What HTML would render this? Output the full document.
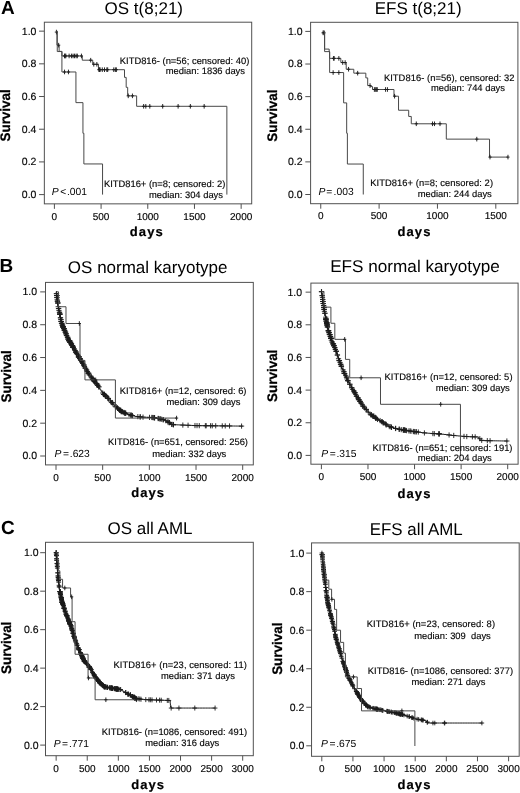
<!DOCTYPE html>
<html><head><meta charset="utf-8"><title>Figure</title>
<style>
html,body{margin:0;padding:0;background:#fff}
svg{display:block}
text{font-family:"Liberation Sans",Arial,Helvetica,sans-serif;fill:#000;text-rendering:geometricPrecision}
.tk{font-size:10.5px;stroke:#111;stroke-width:.15px}
.tx{font-size:10px}
.an{font-size:9.4px;stroke:#111;stroke-width:.15px}
.ti{font-size:17px}
.ax{font-size:13px;font-weight:bold;stroke:#000;stroke-width:.2px}
.dy{letter-spacing:1.1px}
.sv{font-size:13.8px;font-weight:bold;stroke:#000;stroke-width:.25px}
.pl{font-size:19px;font-weight:bold}
.pv{font-size:10.3px}
</style></head><body>
<svg width="520" height="793" viewBox="0 0 520 793">
<rect width="520" height="793" fill="#fff"/>
<rect x="44.35" y="22.2" width="207.35" height="181.65" fill="none" stroke="#505050" stroke-width="1"/>
<text class="tk" text-anchor="end" x="36.45" y="198.05">0.0</text>
<text class="tk" text-anchor="end" x="36.45" y="165.36">0.2</text>
<text class="tk" text-anchor="end" x="36.45" y="132.67">0.4</text>
<text class="tk" text-anchor="end" x="36.45" y="99.98">0.6</text>
<text class="tk" text-anchor="end" x="36.45" y="67.29">0.8</text>
<text class="tk" text-anchor="end" x="36.45" y="34.6">1.0</text>
<text class="tk tx" text-anchor="middle" x="54.4" y="220">0</text>
<text class="tk tx" text-anchor="middle" x="101.09" y="220">500</text>
<text class="tk tx" text-anchor="middle" x="147.78" y="220">1000</text>
<text class="tk tx" text-anchor="middle" x="194.46" y="220">1500</text>
<text class="tk tx" text-anchor="middle" x="241.15" y="220">2000</text>
<path d="M39.05 194.6H44.35M39.05 161.91H44.35M39.05 129.22H44.35M39.05 96.53H44.35M39.05 63.84H44.35M39.05 31.15H44.35M54.4 203.85V208.85M101.09 203.85V208.85M147.78 203.85V208.85M194.46 203.85V208.85M241.15 203.85V208.85" fill="none" stroke="#505050" stroke-width="1"/>
<path d="M56.41 32.08 H56.97 V45.16 H59.12 V51.37 H61.92 V55.95 H82.28 V60.2 H92.74 V64.29 H98.44 V69.69 H124.5 V77.37 H126.18 V87.34 H127.68 V95.85 H136.64 V106.31 H226.87 H226.87 V194.6" fill="none" stroke="#484848" stroke-width="1.0" stroke-linejoin="miter"/>
<path d="M56.41 29.78V34.38M54.81 32.08H58.01M58.65 42.86V47.46M57.05 45.16H60.25M64.54 53.65V58.25M62.94 55.95H66.14M65.1 53.65V58.25M63.5 55.95H66.7M65.84 53.65V58.25M64.24 55.95H67.44M69.11 53.65V58.25M67.51 55.95H70.71M71.45 53.65V58.25M69.85 55.95H73.05M73.04 53.65V58.25M71.44 55.95H74.64M74.53 53.65V58.25M72.93 55.95H76.13M76.12 53.65V58.25M74.52 55.95H77.72M77.33 53.65V58.25M75.73 55.95H78.93M81.44 53.65V58.25M79.84 55.95H83.04M90.69 57.9V62.5M89.09 60.2H92.29M93.77 61.99V66.59M92.17 64.29H95.37M96.85 61.99V66.59M95.25 64.29H98.45M98.91 67.39V71.99M97.31 69.69H100.51M99.47 67.39V71.99M97.87 69.69H101.07M100.12 67.39V71.99M98.52 69.69H101.72M102.27 67.39V71.99M100.67 69.69H103.87M104.51 67.39V71.99M102.91 69.69H106.11M106.85 67.39V71.99M105.25 69.69H108.45M107.69 67.39V71.99M106.09 69.69H109.29M113.76 67.39V71.99M112.16 69.69H115.36M115.35 67.39V71.99M113.75 69.69H116.95M116.37 67.39V71.99M114.77 69.69H117.97M128.24 93.55V98.15M126.64 95.85H129.84M132.44 93.55V98.15M130.84 95.85H134.04M143.65 104.01V108.61M142.05 106.31H145.25M145.8 104.01V108.61M144.2 106.31H147.4M149.81 104.01V108.61M148.21 106.31H151.41M162.7 104.01V108.61M161.1 106.31H164.3M178.11 104.01V108.61M176.51 106.31H179.71M190.35 104.01V108.61M188.75 106.31H191.95M204.17 104.01V108.61M202.57 106.31H205.77" fill="none" stroke="#1c1c1c" stroke-width="0.95"/>
<path d="M56.41 31.1 H57.25 V51.54 H61.92 V71.97 H75.93 V102.63 H82.94 V133.29 H83.87 V163.94 H102.55 H102.55 V194.6" fill="none" stroke="#484848" stroke-width="1.0" stroke-linejoin="miter"/>
<path d="M64.54 69.67V74.27M62.94 71.97H66.14M68.46 69.67V74.27M66.86 71.97H70.06" fill="none" stroke="#1c1c1c" stroke-width="0.95"/>
<rect x="310.6" y="22.3" width="207.3" height="181.4" fill="none" stroke="#505050" stroke-width="1"/>
<text class="tk" text-anchor="end" x="302.5" y="197.95">0.0</text>
<text class="tk" text-anchor="end" x="302.5" y="165.33">0.2</text>
<text class="tk" text-anchor="end" x="302.5" y="132.71">0.4</text>
<text class="tk" text-anchor="end" x="302.5" y="100.09">0.6</text>
<text class="tk" text-anchor="end" x="302.5" y="67.47">0.8</text>
<text class="tk" text-anchor="end" x="302.5" y="34.85">1.0</text>
<text class="tk tx" text-anchor="middle" x="320.75" y="219">0</text>
<text class="tk tx" text-anchor="middle" x="379.1" y="219">500</text>
<text class="tk tx" text-anchor="middle" x="437.45" y="219">1000</text>
<text class="tk tx" text-anchor="middle" x="495.8" y="219">1500</text>
<path d="M305.3 194.5H310.6M305.3 161.88H310.6M305.3 129.26H310.6M305.3 96.64H310.6M305.3 64.02H310.6M305.3 31.4H310.6M320.75 203.7V208.7M379.1 203.7V208.7M437.45 203.7V208.7M495.8 203.7V208.7" fill="none" stroke="#505050" stroke-width="1"/>
<path d="M323.09 32.83 H324.6 V49.08 H329.16 V51.94 H329.63 V58.37 H340.84 V62.55 H346.21 V69.25 H353.8 V73.17 H365.83 V77.9 H367.7 V85.58 H370.62 V86.56 H372.49 V89.5 H393.98 V96.19 H398.54 V110.24 H408.7 V116.44 H411.27 V123.79 H446.31 V139.14 H489.53 V157.1 H507.98" fill="none" stroke="#484848" stroke-width="1.0" stroke-linejoin="miter"/>
<path d="M323.09 30.53V35.13M321.49 32.83H324.69M324.02 30.53V35.13M322.42 32.83H325.62M333.48 56.07V60.67M331.88 58.37H335.08M334.18 56.07V60.67M332.58 58.37H335.78M338.85 56.07V60.67M337.25 58.37H340.45M342.71 60.25V64.85M341.11 62.55H344.31M345.16 60.25V64.85M343.56 62.55H346.76M348.55 66.95V71.55M346.95 69.25H350.15M357.66 70.87V75.47M356.06 73.17H359.26M370.04 83.28V87.88M368.44 85.58H371.64M374.36 87.2V91.8M372.76 89.5H375.96M375.3 87.2V91.8M373.7 89.5H376.9M376.35 87.2V91.8M374.75 89.5H377.95M377.28 87.2V91.8M375.68 89.5H378.88M385.57 87.2V91.8M383.97 89.5H387.17M387.44 87.2V91.8M385.84 89.5H389.04M394.57 93.89V98.49M392.97 96.19H396.17M416.29 121.49V126.09M414.69 123.79H417.89M432.53 121.49V126.09M430.93 123.79H434.13M434.51 121.49V126.09M432.91 123.79H436.11M440 121.49V126.09M438.4 123.79H441.6M476.79 136.84V141.44M475.19 139.14H478.39M489.99 154.8V159.4M488.39 157.1H491.59M507.98 154.8V159.4M506.38 157.1H509.58" fill="none" stroke="#1c1c1c" stroke-width="0.95"/>
<path d="M323.09 31.2 H324.6 V51.61 H329.63 V72.55 H343.64 V102.89 H346.68 V133.26 H347.38 V164.04 H363.27 H363.27 V194.5" fill="none" stroke="#484848" stroke-width="1.0" stroke-linejoin="miter"/>
<path d="M333.13 70.25V74.85M331.53 72.55H334.73M338.85 70.25V74.85M337.25 72.55H340.45" fill="none" stroke="#1c1c1c" stroke-width="0.95"/>
<rect x="45.5" y="282.4" width="207.8" height="182.5" fill="none" stroke="#505050" stroke-width="1"/>
<text class="tk" text-anchor="end" x="37" y="459.45">0.0</text>
<text class="tk" text-anchor="end" x="37" y="426.63">0.2</text>
<text class="tk" text-anchor="end" x="37" y="393.81">0.4</text>
<text class="tk" text-anchor="end" x="37" y="360.99">0.6</text>
<text class="tk" text-anchor="end" x="37" y="328.17">0.8</text>
<text class="tk" text-anchor="end" x="37" y="295.35">1.0</text>
<text class="tk tx" text-anchor="middle" x="56" y="480.8">0</text>
<text class="tk tx" text-anchor="middle" x="102.67" y="480.8">500</text>
<text class="tk tx" text-anchor="middle" x="149.35" y="480.8">1000</text>
<text class="tk tx" text-anchor="middle" x="196.03" y="480.8">1500</text>
<text class="tk tx" text-anchor="middle" x="242.7" y="480.8">2000</text>
<path d="M40.2 456H45.5M40.2 423.18H45.5M40.2 390.36H45.5M40.2 357.54H45.5M40.2 324.72H45.5M40.2 291.9H45.5M56 464.9V469.9M102.67 464.9V469.9M149.35 464.9V469.9M196.03 464.9V469.9M242.7 464.9V469.9" fill="none" stroke="#505050" stroke-width="1"/>
<path d="M56 291.8 H56.27 V293.67 H56.54 V295.53 H56.81 V297.4 H57.08 V299.26 H57.35 V301.13 H57.62 V302.99 H57.89 V304.86 H58.16 V306.72 H58.43 V308.59 H58.78 V310.44 H59.17 V312.28 H59.56 V314.13 H59.94 V315.97 H60.33 V317.82 H60.72 V319.66 H61.11 V321.51 H61.5 V323.35 H62.05 V325.14 H62.77 V326.88 H63.5 V328.62 H64.23 V330.36 H64.96 V332.1 H65.69 V333.84 H66.41 V335.57 H67.14 V337.31 H67.87 V339.05 H68.8 V340.69 H69.76 V342.31 H70.72 V343.93 H71.67 V345.56 H72.63 V347.18 H73.59 V348.8 H74.54 V350.43 H75.5 V352.05 H76.46 V353.68 H77.42 V355.3 H78.37 V356.92 H79.33 V358.55 H80.28 V360.18 H81.23 V361.8 H82.18 V363.43 H83.13 V365.06 H84.09 V366.68 H85.04 V368.31 H85.99 V369.93 H86.94 V371.56 H87.89 V373.19 H88.91 V374.77 H90.05 V376.27 H91.19 V377.77 H92.33 V379.27 H93.47 V380.78 H94.61 V382.28 H95.75 V383.78 H96.88 V385.29 H97.97 V386.83 H99.05 V388.37 H100.14 V389.91 H101.23 V391.45 H102.31 V392.99 H103.49 V394.45 H104.83 V395.78 H106.16 V397.11 H107.5 V398.44 H108.83 V399.77 H110.11 V401.15 H111.37 V402.56 H112.63 V403.96 H113.88 V405.37 H115.14 V406.77 H116.56 V408.01 H118.02 V409.2 H119.48 V410.39 H120.94 V411.57 H122.55 V412.51 H124.31 V413.2 H126.06 V413.89 H127.81 V414.58 H129.63 V415.07 H131.46 V415.55 H133.28 V416.03 H135.13 V416.39 H136.99 V416.63 H138.86 V416.88 H140.73 V417.1 H142.62 V417.17 H144.5 V417.25 H146.38 V417.32 H148.27 V417.4 H150.15 V417.47 H152.03 V417.54 H153.9 V417.78 H155.75 V418.15 H157.6 V418.51 H159.44 V418.88 H161.29 V419.24 H163.11 V419.7 H164.73 V420.65 H166.36 V421.6 H167.99 V422.56 H169.62 V423.49 H171.26 V424.43 H173.09 V424.7 H174.97 V424.78 H176.85 V424.85 H178.74 V424.93 H180.62 V425.01 H182.5 V425.09 H184.39 V425.17 H186.27 V425.25 H188.15 V425.32 H190.03 V425.4 H191.92 V425.48 H193.8 V425.56 H195.68 V425.63 H197.57 V425.65 H199.45 V425.67 H201.34 V425.69 H203.22 V425.7 H205.11 V425.72 H206.99 V425.74 H208.88 V425.76 H210.76 V425.78 H212.65 V425.8 H214.53 V425.82 H216.42 V425.84 H218.3 V425.86 H220.18 V425.88 H222.07 V425.9 H223.95 V425.92 H225.84 V425.94 H227.72 V425.96 H229.61 V425.98 H231.49 V426 H233.38 V426.02 H235.26 V426.04 H237.15 V426.06 H239.03 V426.08 H240.92 V426.1 H242.8 V426.12" fill="none" stroke="#1c1c1c" stroke-width="1.0" stroke-linejoin="miter"/>
<path d="M182.84 422.49V427.69M180.24 425.09H185.44M188.07 422.65V427.85M185.47 425.25H190.67M194.98 422.96V428.16M192.38 425.56H197.58M197.03 423.03V428.23M194.43 425.63H199.63M199.28 423.05V428.25M196.68 425.65H201.88M205.35 423.12V428.32M202.75 425.72H207.95M206.19 423.12V428.32M203.59 425.72H208.79M210.58 423.16V428.36M207.98 425.76H213.18M212.26 423.18V428.38M209.66 425.78H214.86M215.71 423.22V428.42M213.11 425.82H218.31M222.25 423.3V428.5M219.65 425.9H224.85M225.24 423.32V428.52M222.64 425.92H227.84M229.54 423.36V428.56M226.94 425.96H232.14M241.59 423.5V428.7M238.99 426.1H244.19M59.93 311.53V316.73M57.33 314.13H62.53M57.83 300.39V305.59M55.23 302.99H60.43M63.9 326.02V331.22M61.3 328.62H66.5M56.88 294.8V300M54.28 297.4H59.48M62.51 322.54V327.74M59.91 325.14H65.11M60.44 315.22V320.42M57.84 317.82H63.04M56.7 292.93V298.13M54.1 295.53H59.3M62.16 322.54V327.74M59.56 325.14H64.76M56.46 291.07V296.27M53.86 293.67H59.06M61.27 318.91V324.11M58.67 321.51H63.87M56.85 294.8V300M54.25 297.4H59.45M57.1 296.66V301.86M54.5 299.26H59.7M61.15 318.91V324.11M58.55 321.51H63.75M66.04 331.24V336.44M63.44 333.84H68.64M57.5 298.53V303.73M54.9 301.13H60.1M58.71 305.99V311.19M56.11 308.59H61.31M63.62 326.02V331.22M61.02 328.62H66.22M67.51 334.71V339.91M64.91 337.31H70.11M63.01 324.28V329.48M60.41 326.88H65.61M60.82 317.06V322.26M58.22 319.66H63.42M67.85 334.71V339.91M65.25 337.31H70.45M56.57 292.93V298.13M53.97 295.53H59.17M66.42 332.97V338.17M63.82 335.57H69.02M59.52 309.68V314.88M56.92 312.28H62.12M57.75 300.39V305.59M55.15 302.99H60.35M57.43 298.53V303.73M54.83 301.13H60.03M59.75 311.53V316.73M57.15 314.13H62.35M65.91 331.24V336.44M63.31 333.84H68.51M58.19 304.12V309.32M55.59 306.72H60.79M63.06 324.28V329.48M60.46 326.88H65.66M63.76 326.02V331.22M61.16 328.62H66.36M60.52 315.22V320.42M57.92 317.82H63.12M62.65 322.54V327.74M60.05 325.14H65.25M56.76 292.93V298.13M54.16 295.53H59.36M56.72 292.93V298.13M54.12 295.53H59.32M58.5 305.99V311.19M55.9 308.59H61.1M64.26 327.76V332.96M61.66 330.36H66.86M61.19 318.91V324.11M58.59 321.51H63.79M59.81 311.53V316.73M57.21 314.13H62.41M63.11 324.28V329.48M60.51 326.88H65.71M61.5 320.75V325.95M58.9 323.35H64.1M59.64 311.53V316.73M57.04 314.13H62.24M65.65 329.5V334.7M63.05 332.1H68.25M64.49 327.76V332.96M61.89 330.36H67.09M58.96 307.84V313.04M56.36 310.44H61.56M62.97 324.28V329.48M60.37 326.88H65.57M62.38 322.54V327.74M59.78 325.14H64.98M66.63 332.97V338.17M64.03 335.57H69.23M64.86 327.76V332.96M62.26 330.36H67.46M59.5 309.68V314.88M56.9 312.28H62.1M67.9 336.45V341.65M65.3 339.05H70.5M57.43 298.53V303.73M54.83 301.13H60.03M61.08 317.06V322.26M58.48 319.66H63.68M65.19 329.5V334.7M62.59 332.1H67.79M57.85 300.39V305.59M55.25 302.99H60.45M61.94 320.75V325.95M59.34 323.35H64.54M56.48 291.07V296.27M53.88 293.67H59.08M64.11 326.02V331.22M61.51 328.62H66.71M65.28 329.5V334.7M62.68 332.1H67.88M62.96 324.28V329.48M60.36 326.88H65.56M66.63 332.97V338.17M64.03 335.57H69.23M59.81 311.53V316.73M57.21 314.13H62.41M64.44 327.76V332.96M61.84 330.36H67.04M63.22 324.28V329.48M60.62 326.88H65.82M63.04 324.28V329.48M60.44 326.88H65.64M61.54 320.75V325.95M58.94 323.35H64.14M66.2 331.24V336.44M63.6 333.84H68.8M67.47 334.71V339.91M64.87 337.31H70.07M61.76 320.75V325.95M59.16 323.35H64.36M64.06 326.02V331.22M61.46 328.62H66.66M69.96 339.71V344.91M67.36 342.31H72.56M89.11 372.17V377.37M86.51 374.77H91.71M87.48 368.96V374.16M84.88 371.56H90.08M97.82 382.69V387.89M95.22 385.29H100.42M92.71 376.67V381.87M90.11 379.27H95.31M76.65 351.08V356.28M74.05 353.68H79.25M79.67 355.95V361.15M77.07 358.55H82.27M88.13 370.59V375.79M85.53 373.19H90.73M68.82 338.09V343.29M66.22 340.69H71.42M81.94 359.2V364.4M79.34 361.8H84.54M73.16 344.58V349.78M70.56 347.18H75.76M71.64 341.33V346.53M69.04 343.93H74.24M69.9 339.71V344.91M67.3 342.31H72.5M91.1 373.67V378.87M88.5 376.27H93.7M72.01 342.96V348.16M69.41 345.56H74.61M75.54 349.45V354.65M72.94 352.05H78.14M79.83 355.95V361.15M77.23 358.55H82.43M94.19 378.18V383.38M91.59 380.78H96.79M70.55 339.71V344.91M67.95 342.31H73.15M81.57 359.2V364.4M78.97 361.8H84.17M84.56 364.08V369.28M81.96 366.68H87.16M94.54 378.18V383.38M91.94 380.78H97.14M92.63 376.67V381.87M90.03 379.27H95.23M93.96 378.18V383.38M91.36 380.78H96.56M76.46 351.08V356.28M73.86 353.68H79.06M80.55 357.58V362.78M77.95 360.18H83.15M78.86 354.32V359.52M76.26 356.92H81.46M94.57 378.18V383.38M91.97 380.78H97.17M96.77 381.18V386.38M94.17 383.78H99.37M72.65 344.58V349.78M70.05 347.18H75.25M73.41 344.58V349.78M70.81 347.18H76.01M75.07 347.83V353.03M72.47 350.43H77.67M75.12 347.83V353.03M72.52 350.43H77.72M82.64 360.83V366.03M80.04 363.43H85.24M85.75 365.71V370.91M83.15 368.31H88.35M75.99 349.45V354.65M73.39 352.05H78.59M68.26 336.45V341.65M65.66 339.05H70.86M80.66 357.58V362.78M78.06 360.18H83.26M79.18 354.32V359.52M76.58 356.92H81.78M85.07 365.71V370.91M82.47 368.31H87.67M96.63 381.18V386.38M94.03 383.78H99.23M88.78 370.59V375.79M86.18 373.19H91.38M83.55 362.46V367.66M80.95 365.06H86.15M86.6 367.33V372.53M84 369.93H89.2M88.35 370.59V375.79M85.75 373.19H90.95M69.76 338.09V343.29M67.16 340.69H72.36M95.03 379.68V384.88M92.43 382.28H97.63M91.45 375.17V380.37M88.85 377.77H94.05M94.28 378.18V383.38M91.68 380.78H96.88M91.99 375.17V380.37M89.39 377.77H94.59M79.87 355.95V361.15M77.27 358.55H82.47M80.07 355.95V361.15M77.47 358.55H82.67M71.24 341.33V346.53M68.64 343.93H73.84M87.1 368.96V374.16M84.5 371.56H89.7M70 339.71V344.91M67.4 342.31H72.6M70.15 339.71V344.91M67.55 342.31H72.75M74.38 346.2V351.4M71.78 348.8H76.98M72.99 344.58V349.78M70.39 347.18H75.59M78.31 352.7V357.9M75.71 355.3H80.91M69.71 338.09V343.29M67.11 340.69H72.31M68.15 336.45V341.65M65.55 339.05H70.75M72.66 344.58V349.78M70.06 347.18H75.26M71.17 341.33V346.53M68.57 343.93H73.77M79.01 354.32V359.52M76.41 356.92H81.61M68.9 338.09V343.29M66.3 340.69H71.5M94.27 378.18V383.38M91.67 380.78H96.87M86.5 367.33V372.53M83.9 369.93H89.1M72.58 342.96V348.16M69.98 345.56H75.18M75.68 349.45V354.65M73.08 352.05H78.28M78.52 354.32V359.52M75.92 356.92H81.12M79.03 354.32V359.52M76.43 356.92H81.63M71.81 342.96V348.16M69.21 345.56H74.41M93.52 378.18V383.38M90.92 380.78H96.12M97.82 382.69V387.89M95.22 385.29H100.42M82.07 359.2V364.4M79.47 361.8H84.67M82.6 360.83V366.03M80 363.43H85.2M70.71 339.71V344.91M68.11 342.31H73.31M71.2 341.33V346.53M68.6 343.93H73.8M78.38 354.32V359.52M75.78 356.92H80.98M76.06 349.45V354.65M73.46 352.05H78.66M92.91 376.67V381.87M90.31 379.27H95.51M72.97 344.58V349.78M70.37 347.18H75.57M68.83 338.09V343.29M66.23 340.69H71.43M96.57 381.18V386.38M93.97 383.78H99.17M83.93 362.46V367.66M81.33 365.06H86.53M72.52 342.96V348.16M69.92 345.56H75.12M84.38 364.08V369.28M81.78 366.68H86.98M68.95 338.09V343.29M66.35 340.69H71.55M83.93 362.46V367.66M81.33 365.06H86.53M97.39 382.69V387.89M94.79 385.29H99.99M122.22 408.97V414.17M119.62 411.57H124.82M117.54 405.41V410.61M114.94 408.01H120.14M105.35 393.18V398.38M102.75 395.78H107.95M108.3 395.84V401.04M105.7 398.44H110.9M102.71 390.39V395.59M100.11 392.99H105.31M119.66 407.79V412.99M117.06 410.39H122.26M112.95 401.36V406.56M110.35 403.96H115.55M119.86 407.79V412.99M117.26 410.39H122.46M107.27 394.51V399.71M104.67 397.11H109.87M104.28 391.85V397.05M101.68 394.45H106.88M120.77 407.79V412.99M118.17 410.39H123.37M125.63 410.6V415.8M123.03 413.2H128.23M121.92 408.97V414.17M119.32 411.57H124.52M120.62 407.79V412.99M118.02 410.39H123.22M120.96 408.97V414.17M118.36 411.57H123.56M118.76 406.6V411.8M116.16 409.2H121.36M104.38 391.85V397.05M101.78 394.45H106.98M112.53 399.96V405.16M109.93 402.56H115.13M107.99 395.84V401.04M105.39 398.44H110.59M98.84 384.23V389.43M96.24 386.83H101.44M98.81 384.23V389.43M96.21 386.83H101.41M105.86 393.18V398.38M103.26 395.78H108.46M105.29 393.18V398.38M102.69 395.78H107.89M117.43 405.41V410.61M114.83 408.01H120.03M124.83 410.6V415.8M122.23 413.2H127.43M110.56 398.55V403.75M107.96 401.15H113.16M124.29 409.91V415.11M121.69 412.51H126.89M125.71 410.6V415.8M123.11 413.2H128.31M124.79 410.6V415.8M122.19 413.2H127.39M108.25 395.84V401.04M105.65 398.44H110.85M104.21 391.85V397.05M101.61 394.45H106.81M104.39 391.85V397.05M101.79 394.45H106.99M103.54 391.85V397.05M100.94 394.45H106.14M103.76 391.85V397.05M101.16 394.45H106.36M115.52 404.17V409.37M112.92 406.77H118.12M123.26 409.91V415.11M120.66 412.51H125.86M121.58 408.97V414.17M118.98 411.57H124.18M111.46 399.96V405.16M108.86 402.56H114.06M116.33 404.17V409.37M113.73 406.77H118.93M120.44 407.79V412.99M117.84 410.39H123.04M129.06 411.98V417.18M126.46 414.58H131.66M149.5 414.8V420M146.9 417.4H152.1M158.34 415.91V421.11M155.74 418.51H160.94M153.82 414.94V420.14M151.22 417.54H156.42M152.67 414.94V420.14M150.07 417.54H155.27M143.02 414.57V419.77M140.42 417.17H145.62M132.39 412.95V418.15M129.79 415.55H134.99M154.06 415.18V420.38M151.46 417.78H156.66M137.85 414.03V419.23M135.25 416.63H140.45M154.47 415.18V420.38M151.87 417.78H157.07M160.54 416.28V421.48M157.94 418.88H163.14M140.1 414.28V419.48M137.5 416.88H142.7M140.3 414.28V419.48M137.7 416.88H142.9M159.65 416.28V421.48M157.05 418.88H162.25M151.77 414.87V420.07M149.17 417.47H154.37M132.08 412.95V418.15M129.48 415.55H134.68M130.56 412.47V417.67M127.96 415.07H133.16M131.41 412.47V417.67M128.81 415.07H134.01M158.17 415.91V421.11M155.57 418.51H160.77M154.67 415.18V420.38M152.07 417.78H157.27M163.32 417.1V422.3M160.72 419.7H165.92M171.58 421.83V427.03M168.98 424.43H174.18M173.44 422.1V427.3M170.84 424.7H176.04M169.52 419.96V425.16M166.92 422.56H172.12M165.8 418.05V423.25M163.2 420.65H168.4M168.2 419.96V425.16M165.6 422.56H170.8M163.13 417.1V422.3M160.53 419.7H165.73M161.71 416.64V421.84M159.11 419.24H164.31M173.33 422.1V427.3M170.73 424.7H175.93M169.43 419.96V425.16M166.83 422.56H172.03M167.94 419V424.2M165.34 421.6H170.54M172.88 421.83V427.03M170.28 424.43H175.48" fill="none" stroke="#1c1c1c" stroke-width="0.9"/>
<path d="M56 291.8 H58.52 V306.74 H65.99 V323.49 H80 V360.44 H84.95 V379.89 H115.4 V418.07 H176.58" fill="none" stroke="#484848" stroke-width="1.0" stroke-linejoin="miter"/>
<path d="M79.35 321.19V325.79M77.75 323.49H80.95M95.7 377.59V382.19M94.1 379.89H97.3M176.58 415.77V420.37M174.98 418.07H178.18" fill="none" stroke="#1c1c1c" stroke-width="0.95"/>
<rect x="310.9" y="283.1" width="207.2" height="181.1" fill="none" stroke="#505050" stroke-width="1"/>
<text class="tk" text-anchor="end" x="302" y="458.85">0.0</text>
<text class="tk" text-anchor="end" x="302" y="426.2">0.2</text>
<text class="tk" text-anchor="end" x="302" y="393.55">0.4</text>
<text class="tk" text-anchor="end" x="302" y="360.9">0.6</text>
<text class="tk" text-anchor="end" x="302" y="328.25">0.8</text>
<text class="tk" text-anchor="end" x="302" y="295.6">1.0</text>
<text class="tk tx" text-anchor="middle" x="321.4" y="479.6">0</text>
<text class="tk tx" text-anchor="middle" x="367.97" y="479.6">500</text>
<text class="tk tx" text-anchor="middle" x="414.55" y="479.6">1000</text>
<text class="tk tx" text-anchor="middle" x="461.12" y="479.6">1500</text>
<text class="tk tx" text-anchor="middle" x="507.7" y="479.6">2000</text>
<path d="M305.6 455.4H310.9M305.6 422.75H310.9M305.6 390.1H310.9M305.6 357.45H310.9M305.6 324.8H310.9M305.6 292.15H310.9M321.4 464.2V469.2M367.97 464.2V469.2M414.55 464.2V469.2M461.12 464.2V469.2M507.7 464.2V469.2" fill="none" stroke="#505050" stroke-width="1"/>
<path d="M321.4 291.7 H321.67 V293.67 H321.95 V295.63 H322.22 V297.6 H322.5 V299.56 H322.77 V301.53 H323.08 V303.49 H323.4 V305.45 H323.72 V307.4 H324.04 V309.36 H324.36 V311.32 H324.69 V313.28 H325.03 V315.23 H325.37 V317.19 H325.7 V319.14 H326.08 V321.09 H326.5 V323.03 H326.92 V324.97 H327.33 V326.91 H327.75 V328.85 H328.17 V330.79 H328.78 V332.68 H329.41 V334.56 H330.03 V336.45 H330.66 V338.33 H331.3 V340.21 H332.04 V342.05 H332.79 V343.89 H333.53 V345.73 H334.28 V347.57 H335.02 V349.41 H335.7 V351.27 H336.39 V353.13 H337.07 V355 H337.75 V356.86 H338.44 V358.72 H339.12 V360.59 H339.79 V362.45 H340.46 V364.32 H341.14 V366.19 H341.81 V368.05 H342.48 V369.92 H343.25 V371.75 H344.11 V373.53 H344.97 V375.32 H345.84 V377.11 H346.7 V378.9 H347.57 V380.68 H348.44 V382.47 H349.3 V384.25 H350.22 V386.01 H351.26 V387.7 H352.3 V389.39 H353.34 V391.08 H354.38 V392.77 H355.38 V394.48 H356.36 V396.21 H357.34 V397.94 H358.32 V399.66 H359.3 V401.39 H360.4 V403.03 H361.55 V404.65 H362.69 V406.28 H363.83 V407.9 H365.14 V409.38 H366.55 V410.78 H367.95 V412.18 H369.38 V413.56 H370.93 V414.8 H372.48 V416.03 H374.04 V417.26 H375.69 V418.36 H377.34 V419.46 H378.99 V420.56 H380.66 V421.65 H382.32 V422.73 H384 V423.78 H385.73 V424.75 H387.46 V425.73 H389.24 V426.59 H391.09 V427.32 H392.94 V428.05 H394.87 V428.47 H396.82 V428.86 H398.76 V429.25 H400.71 V429.63 H402.66 V430.02 H404.62 V430.33 H406.58 V430.63 H408.54 V430.93 H410.5 V431.23 H412.46 V431.53 H414.43 V431.78 H416.4 V432.03 H418.37 V432.28 H420.34 V432.53 H422.31 V432.76 H424.29 V432.93 H426.26 V433.09 H428.24 V433.25 H430.22 V433.41 H432.2 V433.56 H434.18 V433.67 H436.16 V433.77 H438.14 V433.88 H440.13 V433.99 H442.09 V434.24 H444.06 V434.48 H446.03 V434.72 H448 V434.96 H449.97 V435.2 H451.94 V435.44 H453.92 V435.63 H455.9 V435.79 H457.87 V435.95 H459.85 V436.11 H461.83 V436.27 H463.81 V436.43 H465.79 V436.56 H467.77 V436.64 H469.76 V436.71 H471.74 V436.79 H473.72 V436.87 H475.7 V436.95 H477.65 V437.09 H478.8 V438.71 H479.95 V440.32 H481.82 V440.59 H483.8 V440.62 H485.79 V440.66 H487.77 V440.69 H489.76 V440.73 H491.74 V440.76 H493.72 V440.8 H495.71 V440.84 H497.69 V440.87 H499.68 V440.91 H501.66 V440.94 H503.65 V440.98 H505.63 V441.01 H507.61 V441.05" fill="none" stroke="#1c1c1c" stroke-width="1.0" stroke-linejoin="miter"/>
<path d="M449.08 432.36V437.56M446.48 434.96H451.68M453.74 432.84V438.04M451.14 435.44H456.34M464 433.83V439.03M461.4 436.43H466.6M466.79 433.96V439.16M464.19 436.56H469.39M472.38 434.19V439.39M469.78 436.79H474.98M475.18 434.27V439.47M472.58 436.87H477.78M479.84 436.11V441.31M477.24 438.71H482.44M481.7 437.72V442.92M479.1 440.32H484.3M487.3 438.06V443.26M484.7 440.66H489.9M490.09 438.13V443.33M487.49 440.73H492.69M506.87 438.41V443.61M504.27 441.01H509.47M325.85 316.54V321.74M323.25 319.14H328.45M330.34 333.85V339.05M327.74 336.45H332.94M329.87 331.96V337.16M327.27 334.56H332.47M323.56 302.85V308.05M320.96 305.45H326.16M323.98 304.8V310M321.38 307.4H326.58M324.4 308.72V313.92M321.8 311.32H327M323.87 304.8V310M321.27 307.4H326.47M327.41 324.31V329.51M324.81 326.91H330.01M324.06 306.76V311.96M321.46 309.36H326.66M325.7 314.59V319.79M323.1 317.19H328.3M322.74 296.96V302.16M320.14 299.56H325.34M330.73 335.73V340.93M328.13 338.33H333.33M325.03 310.68V315.88M322.43 313.28H327.63M326.1 318.49V323.69M323.5 321.09H328.7M327.38 324.31V329.51M324.78 326.91H329.98M330.67 335.73V340.93M328.07 338.33H333.27M325.71 316.54V321.74M323.11 319.14H328.31M330.81 335.73V340.93M328.21 338.33H333.41M326.54 320.43V325.63M323.94 323.03H329.14M326.85 320.43V325.63M324.25 323.03H329.45M326.77 320.43V325.63M324.17 323.03H329.37M321.59 289.1V294.3M318.99 291.7H324.19M325.91 316.54V321.74M323.31 319.14H328.51M323.28 300.89V306.09M320.68 303.49H325.88M321.44 289.1V294.3M318.84 291.7H324.04M329.59 331.96V337.16M326.99 334.56H332.19M323.17 300.89V306.09M320.57 303.49H325.77M326.25 318.49V323.69M323.65 321.09H328.85M328.83 330.08V335.28M326.23 332.68H331.43M327.1 322.37V327.57M324.5 324.97H329.7M324.74 310.68V315.88M322.14 313.28H327.34M326.71 320.43V325.63M324.11 323.03H329.31M327.09 322.37V327.57M324.49 324.97H329.69M329.44 331.96V337.16M326.84 334.56H332.04M322.49 295V300.2M319.89 297.6H325.09M327.14 322.37V327.57M324.54 324.97H329.74M323.95 304.8V310M321.35 307.4H326.55M324.24 306.76V311.96M321.64 309.36H326.84M329.32 330.08V335.28M326.72 332.68H331.92M326.61 320.43V325.63M324.01 323.03H329.21M327.16 322.37V327.57M324.56 324.97H329.76M329.19 330.08V335.28M326.59 332.68H331.79M330.75 335.73V340.93M328.15 338.33H333.35M325.94 316.54V321.74M323.34 319.14H328.54M327.68 324.31V329.51M325.08 326.91H330.28M326.58 320.43V325.63M323.98 323.03H329.18M326.65 320.43V325.63M324.05 323.03H329.25M328.5 328.19V333.39M325.9 330.79H331.1M326.04 316.54V321.74M323.44 319.14H328.64M326.87 320.43V325.63M324.27 323.03H329.47M326.3 318.49V323.69M323.7 321.09H328.9M331.05 335.73V340.93M328.45 338.33H333.65M328.57 328.19V333.39M325.97 330.79H331.17M330.39 333.85V339.05M327.79 336.45H332.99M331.06 335.73V340.93M328.46 338.33H333.66M324.06 306.76V311.96M321.46 309.36H326.66M327.14 322.37V327.57M324.54 324.97H329.74M331.07 335.73V340.93M328.47 338.33H333.67M330.01 331.96V337.16M327.41 334.56H332.61M322.81 298.93V304.13M320.21 301.53H325.41M322.65 296.96V302.16M320.05 299.56H325.25M325.93 316.54V321.74M323.33 319.14H328.53M322.14 293.03V298.23M319.54 295.63H324.74M323.87 304.8V310M321.27 307.4H326.47M322.15 293.03V298.23M319.55 295.63H324.75M328.26 328.19V333.39M325.66 330.79H330.86M329.44 331.96V337.16M326.84 334.56H332.04M330.6 333.85V339.05M328 336.45H333.2M322.98 298.93V304.13M320.38 301.53H325.58M328.74 328.19V333.39M326.14 330.79H331.34M328.17 328.19V333.39M325.57 330.79H330.77M322.87 298.93V304.13M320.27 301.53H325.47M330.45 333.85V339.05M327.85 336.45H333.05M331.32 337.61V342.81M328.72 340.21H333.92M323.65 302.85V308.05M321.05 305.45H326.25M359.17 397.06V402.26M356.57 399.66H361.77M343.16 367.32V372.52M340.56 369.92H345.76M345.73 372.72V377.92M343.13 375.32H348.33M360.25 398.79V403.99M357.65 401.39H362.85M355.7 391.88V397.08M353.1 394.48H358.3M336.32 348.67V353.87M333.72 351.27H338.92M344.12 370.93V376.13M341.52 373.53H346.72M346.55 374.51V379.71M343.95 377.11H349.15M341.45 363.59V368.79M338.85 366.19H344.05M337.31 352.4V357.6M334.71 355H339.91M340.85 361.72V366.92M338.25 364.32H343.45M352.52 386.79V391.99M349.92 389.39H355.12M332.21 339.45V344.65M329.61 342.05H334.81M347.66 378.08V383.28M345.06 380.68H350.26M344.38 370.93V376.13M341.78 373.53H346.98M332.17 339.45V344.65M329.57 342.05H334.77M341.23 363.59V368.79M338.63 366.19H343.83M349.68 381.65V386.85M347.08 384.25H352.28M346.45 374.51V379.71M343.85 377.11H349.05M333.51 341.29V346.49M330.91 343.89H336.11M360.11 398.79V403.99M357.51 401.39H362.71M354.43 390.17V395.37M351.83 392.77H357.03M359.73 398.79V403.99M357.13 401.39H362.33M334.68 344.97V350.17M332.08 347.57H337.28M339.32 357.99V363.19M336.72 360.59H341.92M332.8 341.29V346.49M330.2 343.89H335.4M354.16 388.48V393.68M351.56 391.08H356.76M339.47 357.99V363.19M336.87 360.59H342.07M335.4 346.81V352.01M332.8 349.41H338M343.85 369.15V374.35M341.25 371.75H346.45M357.98 395.34V400.54M355.38 397.94H360.58M355.31 390.17V395.37M352.71 392.77H357.91M339.12 357.99V363.19M336.52 360.59H341.72M335.97 348.67V353.87M333.37 351.27H338.57M358.21 395.34V400.54M355.61 397.94H360.81M348.14 378.08V383.28M345.54 380.68H350.74M351.89 385.1V390.3M349.29 387.7H354.49M334.24 343.13V348.33M331.64 345.73H336.84M333.31 341.29V346.49M330.71 343.89H335.91M351.54 385.1V390.3M348.94 387.7H354.14M343.94 369.15V374.35M341.34 371.75H346.54M333.74 343.13V348.33M331.14 345.73H336.34M358.76 397.06V402.26M356.16 399.66H361.36M349.98 381.65V386.85M347.38 384.25H352.58M354.81 390.17V395.37M352.21 392.77H357.41M334.07 343.13V348.33M331.47 345.73H336.67M356.39 393.61V398.81M353.79 396.21H358.99M333.58 343.13V348.33M330.98 345.73H336.18M356.58 393.61V398.81M353.98 396.21H359.18M344.76 370.93V376.13M342.16 373.53H347.36M341.45 363.59V368.79M338.85 366.19H344.05M347.63 378.08V383.28M345.03 380.68H350.23M358.43 397.06V402.26M355.83 399.66H361.03M339.39 357.99V363.19M336.79 360.59H341.99M335.39 346.81V352.01M332.79 349.41H337.99M346.88 376.3V381.5M344.28 378.9H349.48M338.54 356.12V361.32M335.94 358.72H341.14M334.81 344.97V350.17M332.21 347.57H337.41M336.32 348.67V353.87M333.72 351.27H338.92M333.11 341.29V346.49M330.51 343.89H335.71M337.48 352.4V357.6M334.88 355H340.08M340.67 361.72V366.92M338.07 364.32H343.27M340.46 361.72V366.92M337.86 364.32H343.06M353.6 388.48V393.68M351 391.08H356.2M340.03 359.85V365.05M337.43 362.45H342.63M375.92 415.76V420.96M373.32 418.36H378.52M366.02 406.78V411.98M363.42 409.38H368.62M371.22 412.2V417.4M368.62 414.8H373.82M361.1 400.43V405.63M358.5 403.03H363.7M368.25 409.58V414.78M365.65 412.18H370.85M361.02 400.43V405.63M358.42 403.03H363.62M383.09 420.13V425.33M380.49 422.73H385.69M377.49 416.86V422.06M374.89 419.46H380.09M366.37 406.78V411.98M363.77 409.38H368.97M375.15 414.66V419.86M372.55 417.26H377.75M389.29 423.99V429.19M386.69 426.59H391.89M363.81 403.68V408.88M361.21 406.28H366.41M385.73 421.18V426.38M383.13 423.78H388.33M373.84 413.43V418.63M371.24 416.03H376.44M375.77 415.76V420.96M373.17 418.36H378.37M386.21 422.15V427.35M383.61 424.75H388.81M372.63 413.43V418.63M370.03 416.03H375.23M376.13 415.76V420.96M373.53 418.36H378.73M381.7 419.05V424.25M379.1 421.65H384.3M390.76 423.99V429.19M388.16 426.59H393.36M371.08 412.2V417.4M368.48 414.8H373.68M386.14 422.15V427.35M383.54 424.75H388.74M382.28 419.05V424.25M379.68 421.65H384.88M380.1 417.96V423.16M377.5 420.56H382.7M372.99 413.43V418.63M370.39 416.03H375.59M371.23 412.2V417.4M368.63 414.8H373.83M362.22 402.05V407.25M359.62 404.65H364.82M364.54 405.3V410.5M361.94 407.9H367.14M362.72 403.68V408.88M360.12 406.28H365.32M383.33 420.13V425.33M380.73 422.73H385.93M403.93 427.42V432.62M401.33 430.02H406.53M399.36 426.65V431.85M396.76 429.25H401.96M395.47 425.87V431.07M392.87 428.47H398.07M432.86 430.96V436.16M430.26 433.56H435.46M434.3 431.07V436.27M431.7 433.67H436.9M424.42 430.33V435.53M421.82 432.93H427.02M405.23 427.73V432.93M402.63 430.33H407.83M403.26 427.42V432.62M400.66 430.02H405.86M405.78 427.73V432.93M403.18 430.33H408.38M414 428.93V434.13M411.4 431.53H416.6M399.08 426.65V431.85M396.48 429.25H401.68M413.32 428.93V434.13M410.72 431.53H415.92M404.3 427.42V432.62M401.7 430.02H406.9M438.81 431.28V436.48M436.21 433.88H441.41M439.34 431.28V436.48M436.74 433.88H441.94M418.32 429.43V434.63M415.72 432.03H420.92M403.37 427.42V432.62M400.77 430.02H405.97M439 431.28V436.48M436.4 433.88H441.6M406.59 428.03V433.23M403.99 430.63H409.19M408.91 428.33V433.53M406.31 430.93H411.51M391.35 424.72V429.92M388.75 427.32H393.95M410.15 428.33V433.53M407.55 430.93H412.75M414.75 429.18V434.38M412.15 431.78H417.35M416.13 429.18V434.38M413.53 431.78H418.73M401.23 427.03V432.23M398.63 429.63H403.83M416.23 429.18V434.38M413.63 431.78H418.83M391.54 424.72V429.92M388.94 427.32H394.14M404.35 427.42V432.62M401.75 430.02H406.95M395.73 425.87V431.07M393.13 428.47H398.33M411.03 428.63V433.83M408.43 431.23H413.63" fill="none" stroke="#1c1c1c" stroke-width="0.9"/>
<path d="M321.4 291.7 H323.92 V307.14 H330.91 V323.25 H334.82 V339.35 H345.45 V359.39 H349.73 V377.79 H380.49 V404.31 H460.45 H460.45 V456" fill="none" stroke="#484848" stroke-width="1.0" stroke-linejoin="miter"/>
<path d="M344.7 337.05V341.65M343.1 339.35H346.3M361.1 375.49V380.09M359.5 377.79H362.7M440.7 402.01V406.61M439.1 404.31H442.3" fill="none" stroke="#1c1c1c" stroke-width="0.95"/>
<rect x="45.5" y="542.3" width="207.8" height="213.4" fill="none" stroke="#505050" stroke-width="1"/>
<text class="tk" text-anchor="end" x="38.5" y="748.55">0.0</text>
<text class="tk" text-anchor="end" x="38.5" y="710.07">0.2</text>
<text class="tk" text-anchor="end" x="38.5" y="671.59">0.4</text>
<text class="tk" text-anchor="end" x="38.5" y="633.11">0.6</text>
<text class="tk" text-anchor="end" x="38.5" y="594.63">0.8</text>
<text class="tk" text-anchor="end" x="38.5" y="556.15">1.0</text>
<text class="tk tx" text-anchor="middle" x="56.15" y="771.9">0</text>
<text class="tk tx" text-anchor="middle" x="87.24" y="771.9">500</text>
<text class="tk tx" text-anchor="middle" x="118.33" y="771.9">1000</text>
<text class="tk tx" text-anchor="middle" x="149.43" y="771.9">1500</text>
<text class="tk tx" text-anchor="middle" x="180.52" y="771.9">2000</text>
<text class="tk tx" text-anchor="middle" x="211.61" y="771.9">2500</text>
<text class="tk tx" text-anchor="middle" x="242.7" y="771.9">3000</text>
<path d="M40.2 745.1H45.5M40.2 706.62H45.5M40.2 668.14H45.5M40.2 629.66H45.5M40.2 591.18H45.5M40.2 552.7H45.5M56.15 755.7V760.7M87.24 755.7V760.7M118.33 755.7V760.7M149.43 755.7V760.7M180.52 755.7V760.7M211.61 755.7V760.7M242.7 755.7V760.7" fill="none" stroke="#505050" stroke-width="1"/>
<path d="M56.1 552.5 H56.22 V554.06 H56.34 V555.63 H56.46 V557.19 H56.58 V558.76 H56.7 V560.32 H56.82 V561.89 H56.94 V563.45 H57.06 V565.02 H57.18 V566.58 H57.31 V568.15 H57.43 V569.71 H57.56 V571.28 H57.68 V572.84 H57.81 V574.41 H57.93 V575.97 H58.06 V577.53 H58.23 V579.09 H58.41 V580.65 H58.6 V582.21 H58.78 V583.77 H58.97 V585.33 H59.16 V586.89 H59.34 V588.45 H59.53 V590 H59.8 V591.55 H60.1 V593.09 H60.41 V594.63 H60.71 V596.17 H61.02 V597.71 H61.33 V599.25 H61.63 V600.79 H61.94 V602.32 H62.36 V603.83 H62.87 V605.32 H63.37 V606.8 H63.88 V608.29 H64.39 V609.77 H64.9 V611.26 H65.41 V612.74 H65.92 V614.23 H66.43 V615.71 H67.01 V617.17 H67.59 V618.63 H68.17 V620.08 H68.75 V621.54 H69.33 V623 H69.91 V624.46 H70.49 V625.92 H71.07 V627.38 H71.58 V628.86 H72.03 V630.36 H72.47 V631.87 H72.92 V633.37 H73.37 V634.88 H73.82 V636.38 H74.27 V637.89 H74.71 V639.39 H75.19 V640.88 H75.78 V642.34 H76.37 V643.79 H76.96 V645.25 H77.55 V646.7 H78.14 V648.15 H78.73 V649.61 H79.32 V651.06 H79.91 V652.52 H80.55 V653.95 H81.21 V655.37 H81.88 V656.8 H82.54 V658.22 H83.2 V659.64 H83.87 V661.06 H84.88 V662.26 H85.89 V663.47 H86.89 V664.67 H87.9 V665.87 H88.91 V667.08 H89.91 V668.28 H90.73 V669.62 H91.5 V670.99 H92.27 V672.35 H93.04 V673.72 H93.8 V675.09 H94.57 V676.46 H95.4 V677.79 H96.37 V679.02 H97.34 V680.26 H98.31 V681.49 H99.28 V682.73 H100.41 V683.8 H101.63 V684.79 H102.85 V685.77 H104.07 V686.76 H105.58 V687.12 H107.12 V687.42 H108.66 V687.72 H110.2 V688.02 H111.75 V688.32 H113.29 V688.58 H114.85 V688.81 H116.4 V689.05 H117.95 V689.29 H119.5 V689.53 H120.88 V690.26 H122.25 V691.03 H123.61 V691.8 H124.98 V692.57 H126.34 V693.35 H127.7 V694.15 H129.05 V694.94 H130.4 V695.74 H131.76 V696.53 H133.11 V697.32 H134.47 V698.12 H135.95 V698.55 H137.5 V698.77 H139.05 V698.99 H140.61 V699.21 H142.16 V699.42 H143.72 V699.59 H145.29 V699.64 H146.86 V699.7 H148.43 V699.76 H150 V699.81 H151.56 V699.87 H153.13 V699.92 H154.7 V699.98 H156.27 V700.04 H157.84 V700.09 H159.41 V700.15 H160.97 V700.21 H162.54 V700.26 H164.11 V700.32 H165.68 V700.37 H167.25 V700.43 H168.82 V700.49 H170.13 V700.8 H170.22 V702.37 H170.31 V703.94 H170.4 V705.51 H170.49 V707.07 H171.14 V708.05 H172.71 H174.28 H175.85 H177.42 H178.99 H180.56 H182.12 H183.69 H185.26 H186.83 H188.4 H189.97 H191.54 H193.11 H194.68 H196.25 H197.82 H199.39 H200.96 H202.53 H204.1 H205.67 H207.24 H208.81 H210.37 H211.94 H213.51 H215.08" fill="none" stroke="#1c1c1c" stroke-width="1.0" stroke-linejoin="miter"/>
<path d="M136.52 696.05V701.05M134.17 698.55H138.87M138.2 696.27V701.27M135.85 698.77H140.55M139.76 696.49V701.49M137.41 698.99H142.11M141 696.71V701.71M138.65 699.21H143.35M145.79 697.14V702.14M143.44 699.64H148.14M148.96 697.26V702.26M146.61 699.76H151.31M150.33 697.31V702.31M147.98 699.81H152.68M152.01 697.37V702.37M149.66 699.87H154.36M156.49 697.54V702.54M154.14 700.04H158.84M159.6 697.65V702.65M157.25 700.15H161.95M161.22 697.71V702.71M158.87 700.21H163.57M167.31 697.93V702.93M164.96 700.43H169.66M168.81 697.93V702.93M166.46 700.43H171.16M171.17 705.55V710.55M168.82 708.05H173.52M178.95 705.55V710.55M176.6 708.05H181.3M194.81 705.55V710.55M192.46 708.05H197.16M215.08 705.55V710.55M212.73 708.05H217.43M56.44 553.13V558.13M54.09 555.63H58.79M56.28 551.56V556.56M53.93 554.06H58.63M58.56 578.15V583.15M56.21 580.65H60.91M57.98 573.47V578.47M55.63 575.97H60.33M60.84 593.67V598.67M58.49 596.17H63.19M60.38 590.59V595.59M58.03 593.09H62.73M62.17 599.82V604.82M59.82 602.32H64.52M61.42 596.75V601.75M59.07 599.25H63.77M61.89 598.29V603.29M59.54 600.79H64.24M63.21 602.82V607.82M60.86 605.32H65.56M59.25 584.39V589.39M56.9 586.89H61.6M58.74 579.71V584.71M56.39 582.21H61.09M64.06 605.79V610.79M61.71 608.29H66.41M57.31 565.65V570.65M54.96 568.15H59.66M61.96 599.82V604.82M59.61 602.32H64.31M61.3 595.21V600.21M58.95 597.71H63.65M56.45 553.13V558.13M54.1 555.63H58.8M62.85 601.33V606.33M60.5 603.83H65.2M63.31 602.82V607.82M60.96 605.32H65.66M61.17 595.21V600.21M58.82 597.71H63.52M62.03 599.82V604.82M59.68 602.32H64.38M62.67 601.33V606.33M60.32 603.83H65.02M57.23 564.08V569.08M54.88 566.58H59.58M60.34 590.59V595.59M57.99 593.09H62.69M60.18 590.59V595.59M57.83 593.09H62.53M62.85 601.33V606.33M60.5 603.83H65.2M62.61 601.33V606.33M60.26 603.83H64.96M62.78 601.33V606.33M60.43 603.83H65.13M60.82 593.67V598.67M58.47 596.17H63.17M63.32 602.82V607.82M60.97 605.32H65.67M61.62 596.75V601.75M59.27 599.25H63.97M61.71 598.29V603.29M59.36 600.79H64.06M57.96 573.47V578.47M55.61 575.97H60.31M56.35 553.13V558.13M54 555.63H58.7M57.18 562.52V567.52M54.83 565.02H59.53M59.02 582.83V587.83M56.67 585.33H61.37M56.95 560.95V565.95M54.6 563.45H59.3M62.86 601.33V606.33M60.51 603.83H65.21M60.62 592.13V597.13M58.27 594.63H62.97M61.18 595.21V600.21M58.83 597.71H63.53M61.16 595.21V600.21M58.81 597.71H63.51M61.6 596.75V601.75M59.25 599.25H63.95M60.06 589.05V594.05M57.71 591.55H62.41M56.13 550V555M53.78 552.5H58.48M62.55 601.33V606.33M60.2 603.83H64.9M62.15 599.82V604.82M59.8 602.32H64.5M60.17 590.59V595.59M57.82 593.09H62.52M60.43 592.13V597.13M58.08 594.63H62.78M61.43 596.75V601.75M59.08 599.25H63.78M56.63 556.26V561.26M54.28 558.76H58.98M62.06 599.82V604.82M59.71 602.32H64.41M58.14 575.03V580.03M55.79 577.53H60.49M56.7 557.82V562.82M54.35 560.32H59.05M58.25 576.59V581.59M55.9 579.09H60.6M62 599.82V604.82M59.65 602.32H64.35M57.76 570.34V575.34M55.41 572.84H60.11M62.08 599.82V604.82M59.73 602.32H64.43M63.99 605.79V610.79M61.64 608.29H66.34M60.09 589.05V594.05M57.74 591.55H62.44M59.19 584.39V589.39M56.84 586.89H61.54M59.97 589.05V594.05M57.62 591.55H62.32M61.63 596.75V601.75M59.28 599.25H63.98M62.3 599.82V604.82M59.95 602.32H64.65M61.09 595.21V600.21M58.74 597.71H63.44M61.3 595.21V600.21M58.95 597.71H63.65M56.73 557.82V562.82M54.38 560.32H59.08M57.29 564.08V569.08M54.94 566.58H59.64M58.15 575.03V580.03M55.8 577.53H60.5M62.11 599.82V604.82M59.76 602.32H64.46M58.56 578.15V583.15M56.21 580.65H60.91M60.69 592.13V597.13M58.34 594.63H63.04M56.2 550V555M53.85 552.5H58.55M56.59 556.26V561.26M54.24 558.76H58.94M58.27 576.59V581.59M55.92 579.09H60.62M61.53 596.75V601.75M59.18 599.25H63.88M61.7 598.29V603.29M59.35 600.79H64.05M61.56 596.75V601.75M59.21 599.25H63.91M58.45 578.15V583.15M56.1 580.65H60.8M60.28 590.59V595.59M57.93 593.09H62.63M59.86 589.05V594.05M57.51 591.55H62.21M59.87 589.05V594.05M57.52 591.55H62.22M57.06 560.95V565.95M54.71 563.45H59.41M63.33 602.82V607.82M60.98 605.32H65.68M57.71 570.34V575.34M55.36 572.84H60.06M64.01 605.79V610.79M61.66 608.29H66.36M63.67 604.3V609.3M61.32 606.8H66.02M56.24 551.56V556.56M53.89 554.06H58.59M59.81 589.05V594.05M57.46 591.55H62.16M62.73 601.33V606.33M60.38 603.83H65.08M63.93 605.79V610.79M61.58 608.29H66.28M73.13 630.87V635.87M70.78 633.37H75.48M69.53 620.5V625.5M67.18 623H71.88M68.36 617.58V622.58M66.01 620.08H70.71M83.01 655.72V660.72M80.66 658.22H85.36M68.38 617.58V622.58M66.03 620.08H70.73M75.76 638.38V643.38M73.41 640.88H78.11M67.01 613.21V618.21M64.66 615.71H69.36M74.62 635.39V640.39M72.27 637.89H76.97M83.15 655.72V660.72M80.8 658.22H85.5M66.83 613.21V618.21M64.48 615.71H69.18M80.51 650.02V655.02M78.16 652.52H82.86M74.31 635.39V640.39M71.96 637.89H76.66M81.84 652.87V657.87M79.49 655.37H84.19M78.19 645.65V650.65M75.84 648.15H80.54M68.79 619.04V624.04M66.44 621.54H71.14M82.05 654.3V659.3M79.7 656.8H84.4M73.86 633.88V638.88M71.51 636.38H76.21M64.68 607.27V612.27M62.33 609.77H67.03M64.26 605.79V610.79M61.91 608.29H66.61M73.97 633.88V638.88M71.62 636.38H76.32M73.16 630.87V635.87M70.81 633.37H75.51M70.2 621.96V626.96M67.85 624.46H72.55M66.99 613.21V618.21M64.64 615.71H69.34M71.03 623.42V628.42M68.68 625.92H73.38M70.48 621.96V626.96M68.13 624.46H72.83M80.91 651.45V656.45M78.56 653.95H83.26M64.22 605.79V610.79M61.87 608.29H66.57M79.13 647.11V652.11M76.78 649.61H81.48M80.89 651.45V656.45M78.54 653.95H83.24M66.58 613.21V618.21M64.23 615.71H68.93M82.63 655.72V660.72M80.28 658.22H84.98M78.38 645.65V650.65M76.03 648.15H80.73M82.13 654.3V659.3M79.78 656.8H84.48M69.95 621.96V626.96M67.6 624.46H72.3M71.59 626.36V631.36M69.24 628.86H73.94M72.01 626.36V631.36M69.66 628.86H74.36M84.07 658.56V663.56M81.72 661.06H86.42M75.91 639.84V644.84M73.56 642.34H78.26M71.37 624.88V629.88M69.02 627.38H73.72M72.71 629.37V634.37M70.36 631.87H75.06M69.66 620.5V625.5M67.31 623H72.01M65.15 608.76V613.76M62.8 611.26H67.5M66.21 611.73V616.73M63.86 614.23H68.56M80.8 651.45V656.45M78.45 653.95H83.15M69.87 620.5V625.5M67.52 623H72.22M82.81 655.72V660.72M80.46 658.22H85.16M69.15 619.04V624.04M66.8 621.54H71.5M69.48 620.5V625.5M67.13 623H71.83M74.36 635.39V640.39M72.01 637.89H76.71M67.96 616.13V621.13M65.61 618.63H70.31M71.62 626.36V631.36M69.27 628.86H73.97M83.22 657.14V662.14M80.87 659.64H85.57M81.79 652.87V657.87M79.44 655.37H84.14M80.35 650.02V655.02M78 652.52H82.7M76.74 641.29V646.29M74.39 643.79H79.09M82.37 654.3V659.3M80.02 656.8H84.72M82.91 655.72V660.72M80.56 658.22H85.26M75.12 636.89V641.89M72.77 639.39H77.47M78.51 645.65V650.65M76.16 648.15H80.86M65.17 608.76V613.76M62.82 611.26H67.52M78.76 647.11V652.11M76.41 649.61H81.11M73.16 630.87V635.87M70.81 633.37H75.51M79.17 647.11V652.11M76.82 649.61H81.52M77.01 642.75V647.75M74.66 645.25H79.36M69.88 620.5V625.5M67.53 623H72.23M65.16 608.76V613.76M62.81 611.26H67.51M82.63 655.72V660.72M80.28 658.22H84.98M66.72 613.21V618.21M64.37 615.71H69.07M73.58 632.38V637.38M71.23 634.88H75.93M71.03 623.42V628.42M68.68 625.92H73.38M70.11 621.96V626.96M67.76 624.46H72.46M78.9 647.11V652.11M76.55 649.61H81.25M83.62 657.14V662.14M81.27 659.64H85.97M69.36 620.5V625.5M67.01 623H71.71M77.24 642.75V647.75M74.89 645.25H79.59M70.17 621.96V626.96M67.82 624.46H72.52M75.28 638.38V643.38M72.93 640.88H77.63M72.04 627.86V632.86M69.69 630.36H74.39M67.52 614.67V619.67M65.17 617.17H69.87M67.4 614.67V619.67M65.05 617.17H69.75M68.32 617.58V622.58M65.97 620.08H70.67M82.22 654.3V659.3M79.87 656.8H84.57M74.08 633.88V638.88M71.73 636.38H76.43M68.57 617.58V622.58M66.22 620.08H70.92M82.22 654.3V659.3M79.87 656.8H84.57M84.02 658.56V663.56M81.67 661.06H86.37M73.14 630.87V635.87M70.79 633.37H75.49M66.96 613.21V618.21M64.61 615.71H69.31M68.02 616.13V621.13M65.67 618.63H70.37M65.99 611.73V616.73M63.64 614.23H68.34M70.99 623.42V628.42M68.64 625.92H73.34M66 611.73V616.73M63.65 614.23H68.35M68.95 619.04V624.04M66.6 621.54H71.3M69.33 619.04V624.04M66.98 621.54H71.68M75.52 638.38V643.38M73.17 640.88H77.87M81.85 652.87V657.87M79.5 655.37H84.2M79.11 647.11V652.11M76.76 649.61H81.46M72.4 627.86V632.86M70.05 630.36H74.75M72.42 627.86V632.86M70.07 630.36H74.77M74.62 635.39V640.39M72.27 637.89H76.97M71.69 626.36V631.36M69.34 628.86H74.04M70.92 623.42V628.42M68.57 625.92H73.27M65.42 610.24V615.24M63.07 612.74H67.77M69.71 620.5V625.5M67.36 623H72.06M83.45 657.14V662.14M81.1 659.64H85.8M66.69 613.21V618.21M64.34 615.71H69.04M74.21 633.88V638.88M71.86 636.38H76.56M76.72 641.29V646.29M74.37 643.79H79.07M81.36 652.87V657.87M79.01 655.37H83.71M68.48 617.58V622.58M66.13 620.08H70.83M69.58 620.5V625.5M67.23 623H71.93M69.13 619.04V624.04M66.78 621.54H71.48M72.14 627.86V632.86M69.79 630.36H74.49M73.06 630.87V635.87M70.71 633.37H75.41M83.17 655.72V660.72M80.82 658.22H85.52M102.57 682.29V687.29M100.22 684.79H104.92M103.09 683.27V688.27M100.74 685.77H105.44M84.56 658.56V663.56M82.21 661.06H86.91M84.79 658.56V663.56M82.44 661.06H87.14M99.54 680.23V685.23M97.19 682.73H101.89M103.59 683.27V688.27M101.24 685.77H105.94M94.39 672.59V677.59M92.04 675.09H96.74M96.87 676.52V681.52M94.52 679.02H99.22M84.09 658.56V663.56M81.74 661.06H86.44M92.61 669.85V674.85M90.26 672.35H94.96M104.27 684.26V689.26M101.92 686.76H106.62M102.06 682.29V687.29M99.71 684.79H104.41M102.71 682.29V687.29M100.36 684.79H105.06M105.26 684.26V689.26M102.91 686.76H107.61M89.5 664.58V669.58M87.15 667.08H91.85M86.46 660.97V665.97M84.11 663.47H88.81M87.45 662.17V667.17M85.1 664.67H89.8M95.46 675.29V680.29M93.11 677.79H97.81M98.94 678.99V683.99M96.59 681.49H101.29M104.59 684.26V689.26M102.24 686.76H106.94M99.8 680.23V685.23M97.45 682.73H102.15M98.18 677.76V682.76M95.83 680.26H100.53M100.74 681.3V686.3M98.39 683.8H103.09M94.05 672.59V677.59M91.7 675.09H96.4M96.1 675.29V680.29M93.75 677.79H98.45M84.95 659.76V664.76M82.6 662.26H87.3M101.12 681.3V686.3M98.77 683.8H103.47M89.15 664.58V669.58M86.8 667.08H91.5M104.12 684.26V689.26M101.77 686.76H106.47M98.14 677.76V682.76M95.79 680.26H100.49M90.7 665.78V670.78M88.35 668.28H93.05M86.88 660.97V665.97M84.53 663.47H89.23M89.57 664.58V669.58M87.22 667.08H91.92M97.94 677.76V682.76M95.59 680.26H100.29M99.3 680.23V685.23M96.95 682.73H101.65M86.53 660.97V665.97M84.18 663.47H88.88M85.62 659.76V664.76M83.27 662.26H87.97M95.51 675.29V680.29M93.16 677.79H97.86M96.78 676.52V681.52M94.43 679.02H99.13M92.54 669.85V674.85M90.19 672.35H94.89M88.96 664.58V669.58M86.61 667.08H91.31M97.18 676.52V681.52M94.83 679.02H99.53M84.32 658.56V663.56M81.97 661.06H86.67M90.65 665.78V670.78M88.3 668.28H93M94.12 672.59V677.59M91.77 675.09H96.47M104.97 684.26V689.26M102.62 686.76H107.32M98.12 677.76V682.76M95.77 680.26H100.47M103.33 683.27V688.27M100.98 685.77H105.68M94.44 672.59V677.59M92.09 675.09H96.79M89.2 664.58V669.58M86.85 667.08H91.55M89.47 664.58V669.58M87.12 667.08H91.82M105 684.26V689.26M102.65 686.76H107.35M99.43 680.23V685.23M97.08 682.73H101.78M90.78 667.12V672.12M88.43 669.62H93.13M84.56 658.56V663.56M82.21 661.06H86.91M94.94 673.96V678.96M92.59 676.46H97.29M98.77 678.99V683.99M96.42 681.49H101.12M93.23 671.22V676.22M90.88 673.72H95.58M89.69 664.58V669.58M87.34 667.08H92.04M98.62 678.99V683.99M96.27 681.49H100.97M104.23 684.26V689.26M101.88 686.76H106.58M89.03 664.58V669.58M86.68 667.08H91.38M84.83 658.56V663.56M82.48 661.06H87.18M91.45 667.12V672.12M89.1 669.62H93.8M93.25 671.22V676.22M90.9 673.72H95.6M98.95 678.99V683.99M96.6 681.49H101.3M88.4 663.37V668.37M86.05 665.87H90.75M101.44 681.3V686.3M99.09 683.8H103.79M100.18 680.23V685.23M97.83 682.73H102.53M95.08 673.96V678.96M92.73 676.46H97.43M111.99 685.82V690.82M109.64 688.32H114.34M134.82 695.62V700.62M132.47 698.12H137.17M115.17 686.31V691.31M112.82 688.81H117.52M130.34 692.44V697.44M127.99 694.94H132.69M112.75 685.82V690.82M110.4 688.32H115.1M112.47 685.82V690.82M110.12 688.32H114.82M128.56 691.65V696.65M126.21 694.15H130.91M114.67 686.08V691.08M112.32 688.58H117.02M134.28 694.82V699.82M131.93 697.32H136.63M120.66 687.03V692.03M118.31 689.53H123.01M111.45 685.52V690.52M109.1 688.02H113.8M112.53 685.82V690.82M110.18 688.32H114.88M118.31 686.79V691.79M115.96 689.29H120.66M125.72 690.07V695.07M123.37 692.57H128.07M134.19 694.82V699.82M131.84 697.32H136.54M110.23 685.52V690.52M107.88 688.02H112.58M117.61 686.55V691.55M115.26 689.05H119.96M112.22 685.82V690.82M109.87 688.32H114.57M134.94 695.62V700.62M132.59 698.12H137.29M110.1 685.22V690.22M107.75 687.72H112.45M107.41 684.92V689.92M105.06 687.42H109.76M107.66 684.92V689.92M105.31 687.42H110.01M117.6 686.55V691.55M115.25 689.05H119.95M132.68 694.03V699.03M130.33 696.53H135.03M132.24 694.03V699.03M129.89 696.53H134.59M127.74 691.65V696.65M125.39 694.15H130.09M135.64 695.62V700.62M133.29 698.12H137.99M133.67 694.82V699.82M131.32 697.32H136.02M115.69 686.31V691.31M113.34 688.81H118.04M111.4 685.52V690.52M109.05 688.02H113.75M133.8 694.82V699.82M131.45 697.32H136.15M128.14 691.65V696.65M125.79 694.15H130.49M106.81 684.62V689.62M104.46 687.12H109.16M125.7 690.07V695.07M123.35 692.57H128.05M117.16 686.55V691.55M114.81 689.05H119.51M117.02 686.55V691.55M114.67 689.05H119.37M115.76 686.31V691.31M113.41 688.81H118.11M110.91 685.52V690.52M108.56 688.02H113.26M105.95 684.62V689.62M103.6 687.12H108.3M114.21 686.08V691.08M111.86 688.58H116.56M116.35 686.31V691.31M114 688.81H118.7M134.39 694.82V699.82M132.04 697.32H136.74M109.55 685.22V690.22M107.2 687.72H111.9M134.65 695.62V700.62M132.3 698.12H137M112.05 685.82V690.82M109.7 688.32H114.4M116.51 686.55V691.55M114.16 689.05H118.86M130.39 692.44V697.44M128.04 694.94H132.74M130.4 692.44V697.44M128.05 694.94H132.75M118.77 686.79V691.79M116.42 689.29H121.12M107.33 684.92V689.92M104.98 687.42H109.68M120 687.03V692.03M117.65 689.53H122.35M116.99 686.55V691.55M114.64 689.05H119.34M133.31 694.82V699.82M130.96 697.32H135.66M111.62 685.52V690.52M109.27 688.02H113.97M116.74 686.55V691.55M114.39 689.05H119.09" fill="none" stroke="#1c1c1c" stroke-width="0.9"/>
<path d="M56.1 552.5 H57.34 V560.79 H58.59 V570.81 H59.83 V579.29 H62.57 V587.97 H70.59 V596.83 H72.09 V621.7 H75.07 V654.27 H88.07 V677.98 H95.1 V699.76 H136.4" fill="none" stroke="#484848" stroke-width="1.0" stroke-linejoin="miter"/>
<path d="M64.81 585.67V590.27M63.21 587.97H66.41M71.65 594.53V599.13M70.05 596.83H73.25M88.44 675.68V680.28M86.84 677.98H90.04M105.86 697.46V702.06M104.26 699.76H107.46M136.4 697.46V702.06M134.8 699.76H138" fill="none" stroke="#1c1c1c" stroke-width="0.95"/>
<rect x="311.55" y="542.9" width="207.65" height="213.4" fill="none" stroke="#505050" stroke-width="1"/>
<text class="tk" text-anchor="end" x="304.35" y="749.25">0.0</text>
<text class="tk" text-anchor="end" x="304.35" y="710.71">0.2</text>
<text class="tk" text-anchor="end" x="304.35" y="672.17">0.4</text>
<text class="tk" text-anchor="end" x="304.35" y="633.63">0.6</text>
<text class="tk" text-anchor="end" x="304.35" y="595.09">0.8</text>
<text class="tk" text-anchor="end" x="304.35" y="556.55">1.0</text>
<text class="tk tx" text-anchor="middle" x="321.8" y="771.5">0</text>
<text class="tk tx" text-anchor="middle" x="352.93" y="771.5">500</text>
<text class="tk tx" text-anchor="middle" x="384.07" y="771.5">1000</text>
<text class="tk tx" text-anchor="middle" x="415.2" y="771.5">1500</text>
<text class="tk tx" text-anchor="middle" x="446.33" y="771.5">2000</text>
<text class="tk tx" text-anchor="middle" x="477.47" y="771.5">2500</text>
<text class="tk tx" text-anchor="middle" x="508.6" y="771.5">3000</text>
<path d="M306.25 745.8H311.55M306.25 707.26H311.55M306.25 668.72H311.55M306.25 630.18H311.55M306.25 591.64H311.55M306.25 553.1H311.55M321.8 756.3V761.3M352.93 756.3V761.3M384.07 756.3V761.3M415.2 756.3V761.3M446.33 756.3V761.3M477.47 756.3V761.3M508.6 756.3V761.3" fill="none" stroke="#505050" stroke-width="1"/>
<path d="M321.9 553 H322.06 V554.64 H322.22 V556.29 H322.38 V557.93 H322.54 V559.58 H322.7 V561.22 H322.86 V562.86 H323.02 V564.51 H323.19 V566.15 H323.36 V567.79 H323.53 V569.44 H323.7 V571.08 H323.87 V572.72 H324.04 V574.37 H324.21 V576.01 H324.38 V577.65 H324.59 V579.29 H324.8 V580.93 H325.01 V582.57 H325.21 V584.21 H325.42 V585.84 H325.63 V587.48 H325.84 V589.12 H326.05 V590.76 H326.25 V592.4 H326.46 V594.04 H326.67 V595.68 H326.88 V597.31 H327.09 V598.95 H327.29 V600.59 H327.5 V602.23 H327.79 V603.86 H328.18 V605.46 H328.57 V607.07 H328.96 V608.67 H329.35 V610.28 H329.74 V611.88 H330.13 V613.49 H330.52 V615.09 H330.92 V616.69 H331.33 V618.29 H331.74 V619.89 H332.16 V621.49 H332.57 V623.09 H332.98 V624.69 H333.39 V626.29 H333.81 V627.89 H334.13 V629.51 H334.44 V631.13 H334.74 V632.75 H335.04 V634.38 H335.34 V636 H335.64 V637.63 H335.94 V639.25 H336.41 V640.83 H336.92 V642.4 H337.44 V643.97 H337.96 V645.54 H338.48 V647.11 H338.96 V648.69 H339.41 V650.28 H339.87 V651.86 H340.32 V653.45 H340.77 V655.04 H341.23 V656.63 H341.68 V658.22 H342.14 V659.8 H342.59 V661.39 H343.13 V662.95 H343.68 V664.51 H344.23 V666.07 H344.77 V667.63 H345.32 V669.19 H345.87 V670.75 H346.41 V672.3 H346.96 V673.86 H347.5 V675.42 H348.06 V676.98 H348.79 V678.46 H349.52 V679.94 H350.24 V681.42 H350.97 V682.91 H351.7 V684.39 H352.53 V685.82 H353.38 V687.24 H354.22 V688.66 H355.07 V690.07 H355.91 V691.49 H356.76 V692.91 H357.62 V694.32 H358.47 V695.74 H359.32 V697.15 H360.18 V698.56 H361.03 V699.98 H362.12 V701.22 H363.22 V702.45 H364.32 V703.69 H365.42 V704.92 H366.52 V706.15 H367.81 V707.06 H369.42 V707.46 H371.02 V707.86 H372.62 V708.26 H374.23 V708.66 H375.83 V709.06 H377.44 V709.41 H379.06 V709.74 H380.68 V710.07 H382.29 V710.41 H383.91 V710.74 H385.53 V711.07 H387.15 V711.4 H388.77 V711.73 H390.38 V712.07 H392 V712.4 H393.62 V712.73 H395.24 V713.07 H396.85 V713.44 H398.45 V713.82 H400.06 V714.19 H401.67 V714.57 H403.26 V715.03 H404.82 V715.56 H406.38 V716.09 H407.95 V716.62 H409.51 V717.15 H411.08 V717.69 H412.64 V718.22 H414.2 V718.75 H415.81 V719.12 H417.44 V719.37 H419.07 V719.62 H420.7 V719.88 H422.34 V720.13 H423.97 V720.38 H425.4 V721.03 H426.56 V722.2 H427.87 V723.03 H429.52 H431.17 H432.82 H434.48 H436.13 H437.78 H439.43 H441.08 H442.73 H444.39 H446.04 H447.69 H449.34 H450.99 H452.64 H454.3 H455.95 H457.6 H459.25 H460.9 H462.55 H464.21 H465.86 H467.51 H469.16 H470.81 H472.47 H474.12 H475.77 H477.42 H479.07 H480.72 H482.38" fill="none" stroke="#1c1c1c" stroke-width="1.0" stroke-linejoin="miter"/>
<path d="M432.93 720.73V725.33M430.63 723.03H435.23M434.79 720.73V725.33M432.49 723.03H437.09M444.37 720.73V725.33M442.07 723.03H446.67M444.75 720.73V725.33M442.44 723.03H447.05M481.88 720.73V725.33M479.58 723.03H484.18M328.04 601.56V606.16M325.74 603.86H330.34M322.11 552.34V556.94M319.81 554.64H324.41M324.71 576.99V581.59M322.41 579.29H327.01M327.45 598.29V602.89M325.15 600.59H329.75M327.15 596.65V601.25M324.85 598.95H329.45M322.18 552.34V556.94M319.88 554.64H324.48M322.14 552.34V556.94M319.84 554.64H324.44M322.33 553.99V558.59M320.03 556.29H324.63M328.2 603.16V607.76M325.9 605.46H330.5M323.66 567.14V571.74M321.36 569.44H325.96M327.01 595.01V599.61M324.71 597.31H329.31M328.05 601.56V606.16M325.75 603.86H330.35M324.22 573.71V578.31M321.92 576.01H326.52M323.76 568.78V573.38M321.46 571.08H326.06M328.45 603.16V607.76M326.15 605.46H330.75M326.12 588.46V593.06M323.82 590.76H328.42M323.69 567.14V571.74M321.39 569.44H325.99M326.8 593.38V597.98M324.5 595.68H329.1M324.07 572.07V576.67M321.77 574.37H326.37M323.79 568.78V573.38M321.49 571.08H326.09M321.93 550.7V555.3M319.63 553H324.23M327.07 595.01V599.61M324.77 597.31H329.37M328.17 601.56V606.16M325.87 603.86H330.47M326.24 588.46V593.06M323.94 590.76H328.54M328.35 603.16V607.76M326.05 605.46H330.65M322.07 552.34V556.94M319.77 554.64H324.37M323.5 565.49V570.09M321.2 567.79H325.8M325.15 580.27V584.87M322.85 582.57H327.45M328.45 603.16V607.76M326.15 605.46H330.75M328.43 603.16V607.76M326.13 605.46H330.73M324.54 575.35V579.95M322.24 577.65H326.84M323.62 567.14V571.74M321.32 569.44H325.92M324.84 578.63V583.23M322.54 580.93H327.14M325.28 581.91V586.51M322.98 584.21H327.58M328.25 603.16V607.76M325.95 605.46H330.55M323.15 562.21V566.81M320.85 564.51H325.45M327.39 598.29V602.89M325.09 600.59H329.69M326.95 595.01V599.61M324.65 597.31H329.25M327.53 599.93V604.53M325.23 602.23H329.83M327.19 596.65V601.25M324.89 598.95H329.49M326.05 588.46V593.06M323.75 590.76H328.35M324.14 572.07V576.67M321.84 574.37H326.44M324.09 572.07V576.67M321.79 574.37H326.39M324.38 573.71V578.31M322.08 576.01H326.68M327.25 596.65V601.25M324.95 598.95H329.55M322.44 555.63V560.23M320.14 557.93H324.74M323.25 563.85V568.45M320.95 566.15H325.55M327.05 595.01V599.61M324.75 597.31H329.35M323.59 567.14V571.74M321.29 569.44H325.89M322.34 553.99V558.59M320.04 556.29H324.64M322.13 552.34V556.94M319.83 554.64H324.43M325.68 585.18V589.78M323.38 587.48H327.98M324.13 572.07V576.67M321.83 574.37H326.43M328.61 604.77V609.37M326.31 607.07H330.91M327.94 601.56V606.16M325.64 603.86H330.24M328.66 604.77V609.37M326.36 607.07H330.96M323.71 568.78V573.38M321.41 571.08H326.01M322.48 555.63V560.23M320.18 557.93H324.78M322.56 557.28V561.88M320.26 559.58H324.86M325.31 581.91V586.51M323.01 584.21H327.61M326.76 593.38V597.98M324.46 595.68H329.06M324.96 578.63V583.23M322.66 580.93H327.26M323.5 565.49V570.09M321.2 567.79H325.8M324.75 576.99V581.59M322.45 579.29H327.05M326.14 588.46V593.06M323.84 590.76H328.44M326.51 591.74V596.34M324.21 594.04H328.81M327.02 595.01V599.61M324.72 597.31H329.32M327.7 599.93V604.53M325.4 602.23H330M326.45 590.1V594.7M324.15 592.4H328.75M322.73 558.92V563.52M320.43 561.22H325.03M327.65 599.93V604.53M325.35 602.23H329.95M323.91 570.42V575.02M321.61 572.72H326.21M325.78 585.18V589.78M323.48 587.48H328.08M324.45 575.35V579.95M322.15 577.65H326.75M326.95 595.01V599.61M324.65 597.31H329.25M323.26 563.85V568.45M320.96 566.15H325.56M323.59 567.14V571.74M321.29 569.44H325.89M323.58 567.14V571.74M321.28 569.44H325.88M322.95 560.56V565.16M320.65 562.86H325.25M327.95 601.56V606.16M325.65 603.86H330.25M339.17 646.39V650.99M336.87 648.69H341.47M334.63 628.83V633.43M332.33 631.13H336.93M335.89 635.33V639.93M333.59 637.63H338.19M346.64 670V674.6M344.34 672.3H348.94M337.89 641.67V646.27M335.59 643.97H340.19M332.92 620.79V625.39M330.62 623.09H335.22M343.32 660.65V665.25M341.02 662.95H345.62M340.53 651.15V655.75M338.23 653.45H342.83M346.62 670V674.6M344.32 672.3H348.92M330.59 612.79V617.39M328.29 615.09H332.89M337.31 640.1V644.7M335.01 642.4H339.61M343.52 660.65V665.25M341.22 662.95H345.82M343.9 662.21V666.81M341.6 664.51H346.2M345.24 665.33V669.93M342.94 667.63H347.54M329.47 607.98V612.58M327.17 610.28H331.77M334.04 625.59V630.19M331.74 627.89H336.34M330.89 612.79V617.39M328.59 615.09H333.19M332.16 619.19V623.79M329.86 621.49H334.46M346.29 668.45V673.05M343.99 670.75H348.59M339.26 646.39V650.99M336.96 648.69H341.56M345.52 666.89V671.49M343.22 669.19H347.82M335.46 633.7V638.3M333.16 636H337.76M344.37 663.77V668.37M342.07 666.07H346.67M336.84 638.53V643.13M334.54 640.83H339.14M333.43 623.99V628.59M331.13 626.29H335.73M342.77 659.09V663.69M340.47 661.39H345.07M345.8 666.89V671.49M343.5 669.19H348.1M330.65 612.79V617.39M328.35 615.09H332.95M339.5 647.98V652.58M337.2 650.28H341.8M339.92 649.56V654.16M337.62 651.86H342.22M332.67 620.79V625.39M330.37 623.09H334.97M335.39 633.7V638.3M333.09 636H337.69M331.29 614.39V618.99M328.99 616.69H333.59M332.42 619.19V623.79M330.12 621.49H334.72M333.34 622.39V626.99M331.04 624.69H335.64M339.55 647.98V652.58M337.25 650.28H341.85M340.5 651.15V655.75M338.2 653.45H342.8M332.41 619.19V623.79M330.11 621.49H334.71M328.95 604.77V609.37M326.65 607.07H331.25M334.64 628.83V633.43M332.34 631.13H336.94M340.98 652.74V657.34M338.68 655.04H343.28M332.08 617.59V622.19M329.78 619.89H334.38M334.37 627.21V631.81M332.07 629.51H336.67M332.41 619.19V623.79M330.11 621.49H334.71M343.09 659.09V663.69M340.79 661.39H345.39M338.63 644.81V649.41M336.33 647.11H340.93M329.88 609.58V614.18M327.58 611.88H332.18M330.57 612.79V617.39M328.27 615.09H332.87M335.87 635.33V639.93M333.57 637.63H338.17M338.67 644.81V649.41M336.37 647.11H340.97M340.27 649.56V654.16M337.97 651.86H342.57M330.39 611.19V615.79M328.09 613.49H332.69M331.69 615.99V620.59M329.39 618.29H333.99M341.29 654.33V658.93M338.99 656.63H343.59M336.13 636.95V641.55M333.83 639.25H338.43M333.85 625.59V630.19M331.55 627.89H336.15M334.29 627.21V631.81M331.99 629.51H336.59M345.94 668.45V673.05M343.64 670.75H348.24M334.38 627.21V631.81M332.08 629.51H336.68M338.96 646.39V650.99M336.66 648.69H341.26M335.18 632.08V636.68M332.88 634.38H337.48M336.25 636.95V641.55M333.95 639.25H338.55M344.33 663.77V668.37M342.03 666.07H346.63M346.72 670V674.6M344.42 672.3H349.02M335.3 632.08V636.68M333 634.38H337.6M332.3 619.19V623.79M330 621.49H334.6M341.87 655.92V660.52M339.57 658.22H344.17M332.42 619.19V623.79M330.12 621.49H334.72M328.85 604.77V609.37M326.55 607.07H331.15M345.01 665.33V669.93M342.71 667.63H347.31M336.39 636.95V641.55M334.09 639.25H338.69M343.54 660.65V665.25M341.24 662.95H345.84M336.07 636.95V641.55M333.77 639.25H338.37M344.67 663.77V668.37M342.37 666.07H346.97M337.06 640.1V644.7M334.76 642.4H339.36M331.67 615.99V620.59M329.37 618.29H333.97M329.01 606.37V610.97M326.71 608.67H331.31M338.69 644.81V649.41M336.39 647.11H340.99M340.3 649.56V654.16M338 651.86H342.6M345.15 665.33V669.93M342.85 667.63H347.45M330.35 611.19V615.79M328.05 613.49H332.65M339.97 649.56V654.16M337.67 651.86H342.27M335.43 633.7V638.3M333.13 636H337.73M337.84 641.67V646.27M335.54 643.97H340.14M331.37 615.99V620.59M329.07 618.29H333.67M333.85 625.59V630.19M331.55 627.89H336.15M338.14 643.24V647.84M335.84 645.54H340.44M345.44 666.89V671.49M343.14 669.19H347.74M330.7 612.79V617.39M328.4 615.09H333M337.59 641.67V646.27M335.29 643.97H339.89M343.26 660.65V665.25M340.96 662.95H345.56M346.18 668.45V673.05M343.88 670.75H348.48M332.3 619.19V623.79M330 621.49H334.6M331.03 614.39V618.99M328.73 616.69H333.33M345.75 666.89V671.49M343.45 669.19H348.05M346.34 668.45V673.05M344.04 670.75H348.64M337.45 641.67V646.27M335.15 643.97H339.75M329.7 607.98V612.58M327.4 610.28H332M345.45 666.89V671.49M343.15 669.19H347.75M335.74 635.33V639.93M333.44 637.63H338.04M369.28 704.76V709.36M366.98 707.06H371.58M362.21 698.92V703.52M359.91 701.22H364.51M367.29 703.85V708.45M364.99 706.15H369.59M350.77 679.12V683.72M348.47 681.42H353.07M366.33 702.62V707.22M364.03 704.92H368.63M352.31 682.09V686.69M350.01 684.39H354.61M356.84 690.61V695.21M354.54 692.91H359.14M367.84 704.76V709.36M365.54 707.06H370.14M367.41 703.85V708.45M365.11 706.15H369.71M351.33 680.61V685.21M349.03 682.91H353.63M352.21 682.09V686.69M349.91 684.39H354.51M356.73 689.19V693.79M354.43 691.49H359.03M359.67 694.85V699.45M357.37 697.15H361.97M356.32 689.19V693.79M354.02 691.49H358.62M349.84 677.64V682.24M347.54 679.94H352.14M352.93 683.52V688.12M350.63 685.82H355.23M364.82 701.39V705.99M362.52 703.69H367.12M369.1 704.76V709.36M366.8 707.06H371.4M347.8 673.12V677.72M345.5 675.42H350.1M360.77 696.26V700.86M358.47 698.56H363.07M365.63 702.62V707.22M363.33 704.92H367.93M347.73 673.12V677.72M345.43 675.42H350.03M367.63 703.85V708.45M365.33 706.15H369.93M349.71 677.64V682.24M347.41 679.94H352.01M361.7 697.68V702.28M359.4 699.98H364M360.47 696.26V700.86M358.17 698.56H362.77M362.38 698.92V703.52M360.08 701.22H364.68M354.4 686.36V690.96M352.1 688.66H356.7M357.23 690.61V695.21M354.93 692.91H359.53M361.28 697.68V702.28M358.98 699.98H363.58M357.37 690.61V695.21M355.07 692.91H359.67M363.17 698.92V703.52M360.87 701.22H365.47M357.9 692.02V696.62M355.6 694.32H360.2M357.69 692.02V696.62M355.39 694.32H359.99M347.36 671.56V676.16M345.06 673.86H349.66M362.18 698.92V703.52M359.88 701.22H364.48M358.96 693.44V698.04M356.66 695.74H361.26M352.63 683.52V688.12M350.33 685.82H354.93M365.78 702.62V707.22M363.48 704.92H368.08M366.19 702.62V707.22M363.89 704.92H368.49M358.18 692.02V696.62M355.88 694.32H360.48M351.25 680.61V685.21M348.95 682.91H353.55M358.55 693.44V698.04M356.25 695.74H360.85M349.44 676.16V680.76M347.14 678.46H351.74M349.98 677.64V682.24M347.68 679.94H352.28M357.49 690.61V695.21M355.19 692.91H359.79M349.06 676.16V680.76M346.76 678.46H351.36M357.78 692.02V696.62M355.48 694.32H360.08M359.47 694.85V699.45M357.17 697.15H361.77M347.79 673.12V677.72M345.49 675.42H350.09M362.61 698.92V703.52M360.31 701.22H364.91M348.83 676.16V680.76M346.53 678.46H351.13M365.03 701.39V705.99M362.73 703.69H367.33M366.13 702.62V707.22M363.83 704.92H368.43M359.51 694.85V699.45M357.21 697.15H361.81M348.13 674.68V679.28M345.83 676.98H350.43M359.32 693.44V698.04M357.02 695.74H361.62M356.18 689.19V693.79M353.88 691.49H358.48M370.44 705.16V709.76M368.14 707.46H372.74M350.17 677.64V682.24M347.87 679.94H352.47M398.31 711.14V715.74M396.01 713.44H400.61M402.64 712.27V716.87M400.34 714.57H404.94M394.43 710.43V715.03M392.13 712.73H396.73M397.01 711.14V715.74M394.71 713.44H399.31M377.68 707.11V711.71M375.38 709.41H379.98M402.19 712.27V716.87M399.89 714.57H404.49M386.96 708.77V713.37M384.66 711.07H389.26M401.41 711.89V716.49M399.11 714.19H403.71M400.15 711.89V716.49M397.85 714.19H402.45M376.79 706.76V711.36M374.49 709.06H379.09M396.18 710.77V715.37M393.88 713.07H398.48M400.6 711.89V716.49M398.3 714.19H402.9M373.7 705.96V710.56M371.4 708.26H376M382.57 708.11V712.71M380.27 710.41H384.87M395.18 710.43V715.03M392.88 712.73H397.48M376.6 706.76V711.36M374.3 709.06H378.9M399.54 711.52V716.12M397.24 713.82H401.84M380.21 707.44V712.04M377.91 709.74H382.51M397.03 711.14V715.74M394.73 713.44H399.33M376.13 706.76V711.36M373.83 709.06H378.43M387.28 709.1V713.7M384.98 711.4H389.58M400.27 711.89V716.49M397.97 714.19H402.57M378.14 707.11V711.71M375.84 709.41H380.44M379.84 707.44V712.04M377.54 709.74H382.14M387.4 709.1V713.7M385.1 711.4H389.7M381.58 707.77V712.37M379.28 710.07H383.88M372.81 705.96V710.56M370.51 708.26H375.11M377.32 706.76V711.36M375.02 709.06H379.62M376.67 706.76V711.36M374.37 709.06H378.97M400.78 711.89V716.49M398.48 714.19H403.08M392.8 710.1V714.7M390.5 712.4H395.1M399.51 711.52V716.12M397.21 713.82H401.81M376.91 706.76V711.36M374.61 709.06H379.21M396.07 710.77V715.37M393.77 713.07H398.37M375.24 706.36V710.96M372.94 708.66H377.54M388.17 709.1V713.7M385.87 711.4H390.47M391.45 709.77V714.37M389.15 712.07H393.75M382.85 708.11V712.71M380.55 710.41H385.15M398.81 711.52V716.12M396.51 713.82H401.11M388.93 709.43V714.03M386.63 711.73H391.23M389.7 709.43V714.03M387.4 711.73H392M399.11 711.52V716.12M396.81 713.82H401.41M374.91 706.36V710.96M372.61 708.66H377.21M402.54 712.27V716.87M400.24 714.57H404.84M391.25 709.77V714.37M388.95 712.07H393.55M412.57 715.39V719.99M410.27 717.69H414.87M422.61 717.83V722.43M420.31 720.13H424.91M409.35 714.32V718.92M407.05 716.62H411.65M427.4 719.9V724.5M425.1 722.2H429.7M417.12 716.82V721.42M414.82 719.12H419.42M411.72 715.39V719.99M409.42 717.69H414.02M421.78 717.58V722.18M419.48 719.88H424.08M413.76 715.92V720.52M411.46 718.22H416.06M407.16 713.79V718.39M404.86 716.09H409.46M421.26 717.58V722.18M418.96 719.88H423.56M403.96 712.73V717.33M401.66 715.03H406.26M423.16 717.83V722.43M420.86 720.13H425.46M409.07 714.32V718.92M406.77 716.62H411.37M418.66 717.07V721.67M416.36 719.37H420.96M427.24 719.9V724.5M424.94 722.2H429.54" fill="none" stroke="#1c1c1c" stroke-width="0.9"/>
<path d="M321.9 553 H323.14 V561.3 H324.39 V571.34 H325.32 V580.1 H328.8 V589.17 H331.6 V599.32 H334.53 V609.36 H336.64 V630.2 H340.56 V642.36 H343.67 V653.17 H345.41 V676.91 H357.23 V688.49 H361.52 V710.87 H414.89 H414.89 V746" fill="none" stroke="#484848" stroke-width="1.0" stroke-linejoin="miter"/>
<path d="M331.85 597.02V601.62M330.25 599.32H333.45M353.44 674.61V679.21M351.84 676.91H355.04M401.89 708.57V713.17M400.29 710.87H403.49" fill="none" stroke="#1c1c1c" stroke-width="0.95"/>
<text class="pl" text-anchor="start" x="0.9" y="14">A</text>
<text class="pl" text-anchor="start" x="-0.5" y="272">B</text>
<text class="pl" text-anchor="start" x="0.9" y="534">C</text>
<text class="ti" text-anchor="middle" x="143.8" y="14.4">OS t(8;21)</text>
<text class="ti" text-anchor="middle" x="418.2" y="14.2">EFS t(8;21)</text>
<text class="ti" text-anchor="middle" x="147.7" y="272.6">OS normal karyotype</text>
<text class="ti" text-anchor="middle" x="415" y="272.4" textLength="169.6" lengthAdjust="spacingAndGlyphs">EFS normal karyotype</text>
<text class="ti" text-anchor="middle" x="150" y="534">OS all AML</text>
<text class="ti" text-anchor="middle" x="416.2" y="534.6" textLength="93" lengthAdjust="spacingAndGlyphs">EFS all AML</text>
<text class="ax dy" text-anchor="middle" x="146.8" y="235.8">days</text>
<text class="ax dy" text-anchor="middle" x="414.5" y="235.8">days</text>
<text class="ax dy" text-anchor="middle" x="148.2" y="497.3">days</text>
<text class="ax dy" text-anchor="middle" x="414.5" y="497.5">days</text>
<text class="ax dy" text-anchor="middle" x="148.2" y="788.5">days</text>
<text class="ax dy" text-anchor="middle" x="414.5" y="788.5">days</text>
<text class="sv" text-anchor="middle" x="0" y="0" textLength="52.3" lengthAdjust="spacingAndGlyphs" transform="translate(10.3 115.4) rotate(-90)">Survival</text>
<text class="sv" text-anchor="middle" x="0" y="0" textLength="52.3" lengthAdjust="spacingAndGlyphs" transform="translate(277.3 115.6) rotate(-90)">Survival</text>
<text class="sv" text-anchor="middle" x="0" y="0" textLength="52.3" lengthAdjust="spacingAndGlyphs" transform="translate(10.7 376.4) rotate(-90)">Survival</text>
<text class="sv" text-anchor="middle" x="0" y="0" textLength="52.3" lengthAdjust="spacingAndGlyphs" transform="translate(276.5 375.8) rotate(-90)">Survival</text>
<text class="sv" text-anchor="middle" x="0" y="0" textLength="52.3" lengthAdjust="spacingAndGlyphs" transform="translate(10.6 647.8) rotate(-90)">Survival</text>
<text class="sv" text-anchor="middle" x="0" y="0" textLength="52.3" lengthAdjust="spacingAndGlyphs" transform="translate(282.2 648.7) rotate(-90)">Survival</text>
<text class="an" text-anchor="end" x="249.3" y="64">KITD816- (n=56; censored: 40)</text>
<text class="an" text-anchor="end" x="245" y="74.2">median: 1836 days</text>
<text class="an" text-anchor="end" x="225.3" y="186.5">KITD816+ (n=8; censored: 2)</text>
<text class="an" text-anchor="end" x="223" y="197.5">median: 304 days</text>
<text class="an" text-anchor="end" x="514.5" y="80.5" textLength="130.6" lengthAdjust="spacing">KITD816- (n=56), censored: 32</text>
<text class="an" text-anchor="end" x="505" y="91.3">median: 744 days</text>
<text class="an" text-anchor="end" x="493" y="185.8" textLength="122.8" lengthAdjust="spacing">KITD816+ (n=8; censored: 2)</text>
<text class="an" text-anchor="end" x="491.8" y="197">median: 244 days</text>
<text class="an" text-anchor="end" x="246.5" y="394">KITD816+ (n=12, censored: 6)</text>
<text class="an" text-anchor="end" x="240.5" y="405">median: 309 days</text>
<text class="an" text-anchor="end" x="248" y="444.8">KITD816- (n=651, censored: 256)</text>
<text class="an" text-anchor="end" x="226.3" y="456.8">median: 332 days</text>
<text class="an" text-anchor="end" x="512.5" y="379.6" textLength="128" lengthAdjust="spacing">KITD816+ (n=12, censored: 5)</text>
<text class="an" text-anchor="end" x="509.8" y="391.4">median: 309 days</text>
<text class="an" text-anchor="end" x="512.5" y="451.1">KITD816- (n=651; censored: 191)</text>
<text class="an" text-anchor="end" x="491.8" y="460.6">median: 204 days</text>
<text class="an" text-anchor="end" x="246.8" y="667.7" textLength="133.3" lengthAdjust="spacing">KITD816+ (n=23, censored: 11)</text>
<text class="an" text-anchor="end" x="235" y="678.7">median: 371 days</text>
<text class="an" text-anchor="end" x="247" y="735.3">KITD816- (n=1086, censored: 491)</text>
<text class="an" text-anchor="end" x="219.3" y="746">median: 316 days</text>
<text class="an" text-anchor="end" x="495" y="627.4" textLength="128.2" lengthAdjust="spacing">KITD816+ (n=23, censored: 8)</text>
<text class="an" text-anchor="end" x="490.8" y="639.3">median: 309&#160; days</text>
<text class="an" text-anchor="end" x="513" y="674.1">KITD816- (n=1086, censored: 377)</text>
<text class="an" text-anchor="end" x="485.5" y="685.4">median: 271 days</text>
<text class="pv" text-anchor="start" x="51.8" y="194.7"><tspan font-style="italic">P</tspan><tspan dx="1.5">&lt;</tspan><tspan dx="0.8">.001</tspan></text>
<text class="pv" text-anchor="start" x="318.5" y="194.7"><tspan font-style="italic">P</tspan><tspan dx="0.9">=</tspan><tspan dx="1.3">.003</tspan></text>
<text class="pv" text-anchor="start" x="54.6" y="456.9"><tspan font-style="italic">P</tspan><tspan dx="1.5">=</tspan><tspan dx="0.8">.623</tspan></text>
<text class="pv" text-anchor="start" x="321.3" y="457.3"><tspan font-style="italic">P</tspan><tspan dx="1.5">=</tspan><tspan dx="0.8">.315</tspan></text>
<text class="pv" text-anchor="start" x="53.7" y="747.2"><tspan font-style="italic">P</tspan><tspan dx="1.5">=</tspan><tspan dx="0.8">.771</tspan></text>
<text class="pv" text-anchor="start" x="321" y="747.3"><tspan font-style="italic">P</tspan><tspan dx="1.5">=</tspan><tspan dx="0.8">.675</tspan></text>
</svg>
</body></html>
